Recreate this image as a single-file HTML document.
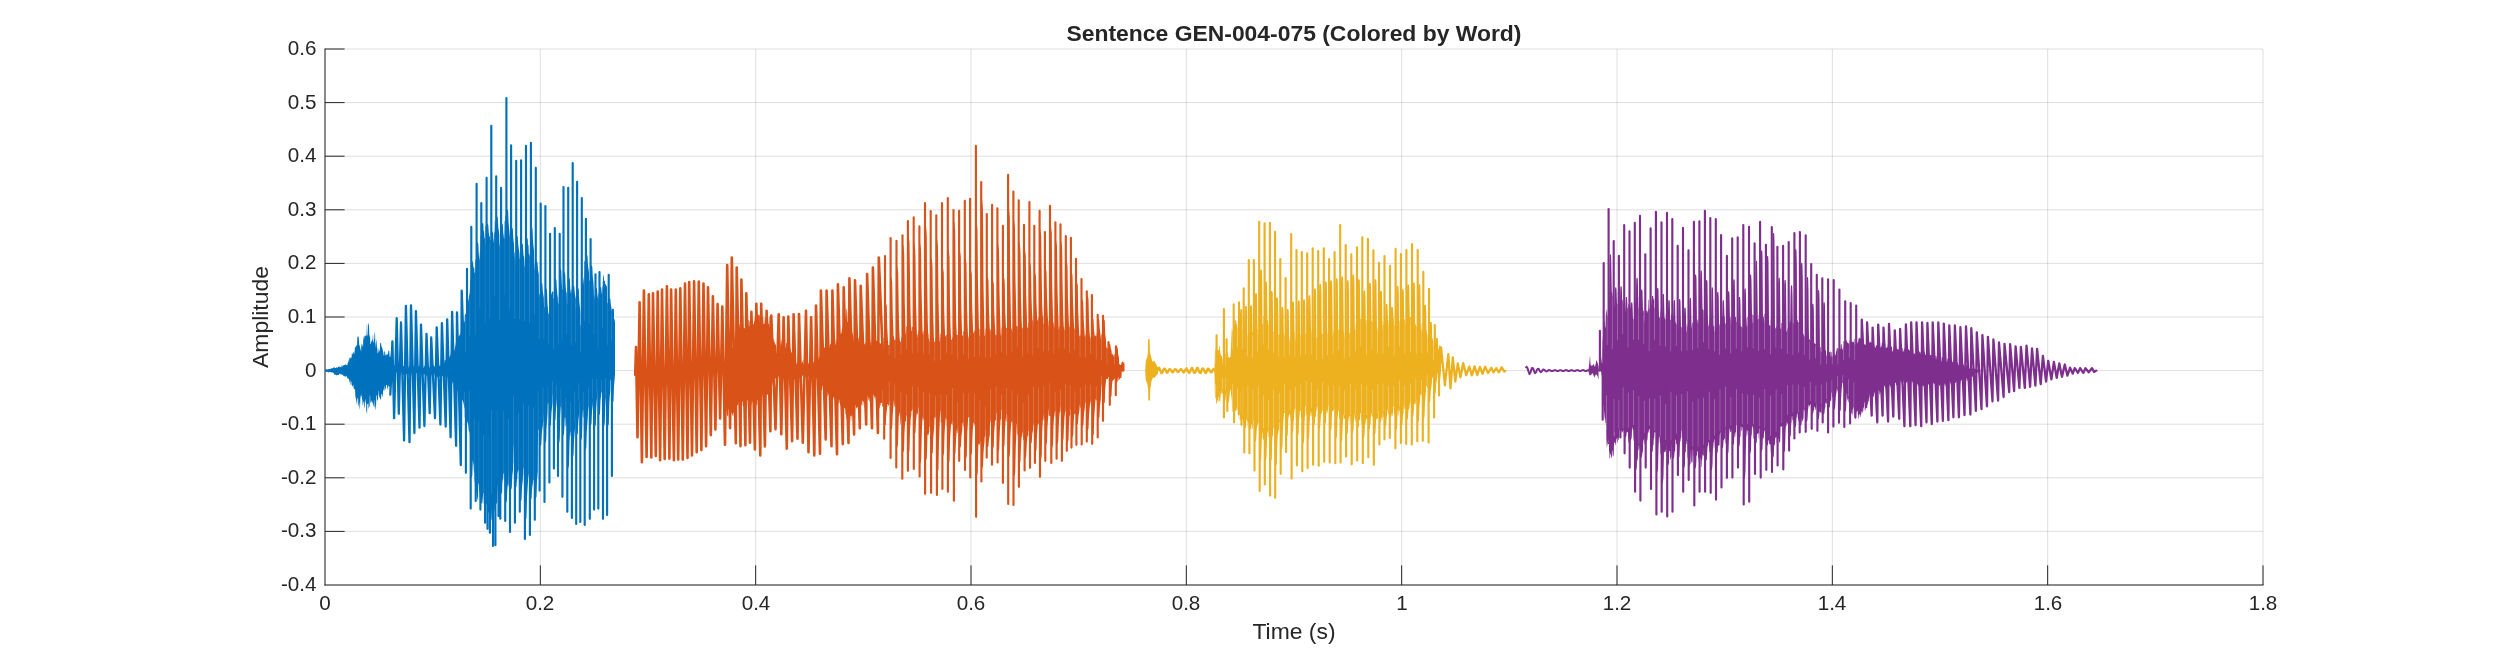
<!DOCTYPE html>
<html><head><meta charset="utf-8"><title>Sentence GEN-004-075</title>
<style>
html,body{margin:0;padding:0;background:#fff;}
body{width:2500px;height:657px;position:relative;overflow:hidden;font-family:"Liberation Sans",sans-serif;color:#262626;}
.xt,.yt,.title,.xl,.yl{will-change:transform;}
.xt{position:absolute;top:591px;width:100px;text-align:center;font-size:20.6px;line-height:24px;white-space:nowrap;}
.yt{position:absolute;left:200px;width:116.5px;text-align:right;font-size:20.6px;line-height:24px;white-space:nowrap;}
.title{position:absolute;left:794px;width:1000px;top:19.5px;text-align:center;font-weight:bold;font-size:22.9px;line-height:26px;color:#262626;white-space:nowrap;}
.xl{position:absolute;left:794px;width:1000px;top:617.5px;text-align:center;font-size:22.9px;line-height:26px;white-space:nowrap;}
.yl{position:absolute;left:109.5px;top:303.7px;width:300px;height:26px;text-align:center;font-size:22.9px;line-height:26px;transform:rotate(-90deg);transform-origin:50% 50%;white-space:nowrap;}
</style></head><body>
<svg width="2500" height="657" viewBox="0 0 2500 657" style="position:absolute;left:0;top:0">
<rect width="2500" height="657" fill="#fff"/>
<path d="M325.00 49V585M540.33 49V585M755.67 49V585M971.00 49V585M1186.33 49V585M1401.67 49V585M1617.00 49V585M1832.33 49V585M2047.67 49V585M2263.00 49V585M325 49.00H2263M325 102.60H2263M325 156.20H2263M325 209.80H2263M325 263.40H2263M325 317.00H2263M325 370.60H2263M325 424.20H2263M325 477.80H2263M325 531.40H2263M325 585.00H2263" stroke="#262626" stroke-opacity="0.15" stroke-width="1" fill="none"/>
<path d="M540.33 585V565.4M755.67 585V565.4M971.00 585V565.4M1186.33 585V565.4M1401.67 585V565.4M1617.00 585V565.4M1832.33 585V565.4M2047.67 585V565.4M2263.00 585V565.4M325 49.00H344.6M325 102.60H344.6M325 156.20H344.6M325 209.80H344.6M325 263.40H344.6M325 317.00H344.6M325 370.60H344.6M325 424.20H344.6M325 477.80H344.6M325 531.40H344.6" stroke="#262626" stroke-width="1" fill="none"/>
<path d="M325 48.5V585.5M324.5 585H2263.5" stroke="#262626" stroke-width="1" fill="none"/>
<path d="M325.3 369.7L326.3 369.3L327.3 369.4L328.8 368.9L331.1 368.8L331.3 368.3L331.8 368.2L332.1 368.5L332.3 368.5L332.6 368.1L334.8 367.3L335.1 368.1L336.1 367.9L336.3 367.2L336.6 367.2L337.1 367.3L337.3 367.7L337.8 367.7L338.1 366.9L338.6 366.5L339.1 366.4L339.6 366.3L339.8 367.3L340.8 366.9L341.1 367.3L341.3 367.3L341.6 365.4L342.1 365.2L342.3 366.6L342.6 366.5L342.8 365.4L343.1 365.3L343.3 365.6L344.3 365.1L345.1 365L345.3 364.2L345.6 364.2L345.8 364.6L346.1 364.5L346.3 365.2L346.8 365L347.1 365.4L347.3 364.9L347.6 363.4L348.1 362.3L348.3 360.1L348.6 359.5L348.8 362.2L349.1 361.7L349.3 358.7L349.8 357.6L350.3 356.7L350.6 358.9L351.6 357.2L351.8 353.6L352.1 353.2L352.3 354.5L353.3 353.1L353.6 352.1L354.1 351.3L354.3 354.1L354.6 353.8L354.8 348.1L355.1 347.6L355.3 347.8L356.3 344.9L356.6 346.3L357.1 344.7L357.3 338.1L358.1 335.2L358.3 338.1L358.8 336.4L359.1 344L359.3 345L359.6 345.2L361.1 351.8L361.3 345.4L361.8 343.9L362.1 344.3L362.3 343.6L362.6 346.9L363.1 345.7L363.3 336.7L363.6 336.3L363.8 339.5L364.1 339.2L364.3 336.8L365.3 335L365.6 336.5L366.1 335.6L366.3 336.1L366.6 334.6L366.8 325.6L367.1 323.7L367.3 336.6L367.8 334L368.1 322.6L368.3 324.6L368.6 323.1L369.1 327.3L369.3 335.6L369.6 337.4L369.8 334.5L370.1 336.1L370.3 344.2L370.8 343.8L371.1 340.4L371.3 340.2L371.6 342L372.1 341.6L372.3 339.6L372.6 339.5L372.8 335L373.1 334.8L373.3 342.5L373.8 342.2L374.1 339.2L374.3 339.1L374.6 331.8L375.1 334.3L375.3 342.7L375.6 343.8L375.8 346.9L376.1 347.8L376.3 339.1L376.8 341.8L377.1 347.4L377.3 347.7L377.6 353L378.1 353.5L378.3 348.7L378.6 348.8L378.8 352.2L379.8 350.1L380.1 343.6L380.3 343L380.6 343.3L381.1 342.5L381.3 345.9L381.6 346.8L381.8 346.8L382.3 348.3L383.1 351.8L383.3 352.1L383.6 355.3L384.1 355.8L384.3 351L385.1 352.1L385.3 354.8L386.1 355.8L386.3 355.6L386.6 354L387.1 353.6L387.3 354.4L387.6 354.2L387.8 354.4L388.1 354.3L388.3 350.7L388.6 350.5L389.3 351L389.6 356.6L390.6 357.1L390.8 353.1L391.3 354.8L392.1 362.2L392.3 364.3L392.6 364.5L392.8 367.4L394.1 367.3L394.3 365.3L394.8 365.3L395.1 367L396.3 367.1L396.6 368L397.8 367.9L398.1 366L398.6 366L398.8 367.3L399.3 367.3L399.6 366L400.1 366L400.3 366.8L400.8 366.8L401.1 366.5L401.6 366.5L401.8 364.6L402.3 364.6L402.6 366.4L403.1 366.4L403.3 366.1L403.8 366.1L404.1 364.9L404.6 364.9L404.8 367.6L405.6 367.7L406.1 367.7L406.3 364.8L406.8 364.8L407.1 365.1L407.6 365.1L407.8 367.3L409.1 367.5L409.3 365.4L409.8 365.4L410.1 364.6L410.6 364.6L410.8 367.5L411.3 367.5L411.6 364.6L412.1 364.6L412.3 364.9L412.8 364.9L413.1 365.9L413.6 365.9L413.8 366.6L414.3 366.6L414.6 367.9L415.8 368.1L416.1 364.6L416.6 364.6L416.8 367.4L417.3 367.4L417.6 365.6L418.1 365.6L418.3 367.3L418.8 367.3L419.1 365.1L419.6 365.1L419.8 366L420.3 366L420.6 367.1L421.1 367.1L421.3 367.6L421.8 367.6L422.1 365.5L422.6 365.5L422.8 368L423.3 368L423.6 367.4L424.1 367.4L424.3 366.1L424.8 366.1L425.1 365L425.6 365L425.8 365.9L426.3 365.9L426.6 367.2L427.1 367.1L427.3 364.6L427.8 364.6L428.1 367.3L428.6 367.2L428.8 367.9L429.3 367.9L429.6 366.8L430.1 366.8L430.3 366.1L430.8 366L431.1 367.5L431.6 367.4L431.8 366.9L432.3 366.9L432.6 366.1L433.1 366L433.3 365.1L433.8 365.1L434.1 366.8L434.6 366.8L434.8 365.8L435.3 365.7L435.6 363.5L436.1 363.5L436.3 363.1L436.8 363L437.1 364.3L438.3 364L438.6 364.4L439.1 364.3L439.3 366.1L439.8 365.8L440.1 366.1L440.8 365.7L441.3 365.4L441.6 361.2L442.1 360.8L442.3 361.6L442.8 361.2L443.1 359.8L443.6 359.5L443.8 363.8L444.3 363.5L444.6 360.3L445.1 359.9L445.3 360.5L445.8 360.2L446.1 358.7L446.6 358.4L446.8 360.3L447.3 360L447.6 356.2L448.1 355.8L448.3 360.7L448.8 360.3L449.1 357.6L449.6 357.2L449.8 355.9L450.3 355.6L450.6 354.5L451.1 354.1L451.3 354.8L451.8 354.5L452.1 354.5L452.6 353.3L454.1 347.9L454.3 351.2L454.8 350L455.1 346.9L455.6 345.6L455.8 343.3L457.1 340.1L457.3 343.4L457.8 342.1L458.1 338.2L458.6 336.8L458.8 335.5L459.3 334.2L459.6 336.3L460.8 332.5L461.1 334.3L461.6 332.8L461.8 329.9L463.1 325.8L463.3 331.3L463.8 329.9L464.1 322.3L464.6 320.8L464.8 315.5L465.3 313.9L465.6 314.5L466.1 312.9L466.3 314.2L466.8 312.6L467.1 316.3L467.6 311.9L467.8 304.3L468.3 299.5L468.6 299.7L469.1 295.1L469.3 295.4L469.8 290.9L470.1 280.8L470.6 276L470.8 289.4L471.1 287.3L471.3 261.1L472.1 261.1L472.8 262L473.1 263.2L473.3 266.8L473.6 266.2L473.8 268.5L474.3 267.5L474.6 272.9L475.1 271.9L475.3 260.1L475.8 259L476.1 263.3L476.6 262.2L476.8 242.2L477.6 242.3L478.3 243.7L478.8 254.3L479.6 260.7L479.8 252.4L480.3 249.6L480.6 237.3L481.1 234.2L481.3 223L482.1 223L482.6 223.5L482.8 222.9L483.3 223.5L483.6 231.1L484.1 231.6L484.3 237.3L484.6 238.6L484.8 238.9L485.1 225.8L485.6 226.3L485.8 243.3L486.3 243.7L486.8 223.8L487.6 223.9L488.3 225L488.8 232.9L489.3 236.7L489.6 235.4L490.3 240.4L490.6 240.4L490.8 239.1L491.1 251.4L491.3 231.4L492.1 231.4L492.3 231.5L493.1 233L493.3 238.3L493.8 243.3L494.1 233.3L494.6 230.8L494.8 219.9L496.1 224.2L496.3 216.6L497.1 216.6L497.8 217.8L498.3 227L499.3 234.8L499.6 244.9L499.8 244.3L500.1 248.8L500.6 247.7L500.8 248.9L501.1 248.3L501.3 223.5L502.1 223.6L502.8 224.8L503.3 233.5L503.6 234.4L503.8 237.6L504.1 238.7L504.3 238.1L504.6 221.4L505.1 220.2L505.3 215.1L505.6 215.6L505.8 216.3L506.1 233.3L506.3 234L506.6 209.4L507.3 209.4L508.1 211L508.6 222.8L509.8 235.9L510.3 237.3L510.6 241.9L511.1 243.2L511.3 227.7L512 227.8L512.8 229.1L513.3 238.3L514 244L514.3 260.3L514.5 252L515 252.7L515.3 264.5L515.8 265.1L516.3 236L517 236L517.8 237.1L518.3 245.2L519.5 254L519.8 258.9L520.3 259.5L520.5 255.2L521 255.8L521.3 243.3L522 243.4L522.8 244.5L523.5 254.7L523.8 256.5L524 255.9L524.3 259.1L524.5 267L524.8 266.4L525 258.9L525.5 257.7L525.8 264.8L526 237.5L526.8 237.5L527.5 238.6L527.8 240L528 245.5L528.5 244.3L528.8 253.7L529.3 257.1L529.5 254L529.8 253.4L530 254.1L530.3 253.1L530.8 255L531 227.1L531.8 227.1L532.5 228.8L533 240.9L534 250.9L534.3 269.3L534.5 270.6L534.8 262.7L535.3 265.6L535.5 264.5L535.8 266L536 261.5L536.8 261.6L537.5 262.5L538 269.9L538.8 274.2L539 298L539.3 292.9L539.8 295.1L540 293.1L540.5 295.4L540.8 282.8L541.5 282.8L542.3 283.8L542.8 291.2L543.8 297.8L544 306.8L544.3 307.7L544.5 306.4L545 308.1L545.3 315.8L545.5 288.3L546.3 288.4L547 290.3L547.5 304.1L548.5 315.1L548.8 313.2L549 313.7L550 305L550.3 295.8L551 295.9L551.3 293.4L551.8 293.2L552 291.7L553.3 291.2L553.5 298.7L554 298.5L554.3 294L554.5 293.9L554.8 278.6L555.5 278.6L555.8 278.9L556.3 279.8L556.5 281.1L556.8 287.9L557.3 294.1L557.8 297.8L558 304L558.5 303.6L558.8 296.9L559.3 296.4L559.5 294.2L559.8 268.8L560.5 268.8L561.3 270.6L561.8 283.6L562.3 290.2L562.5 289.5L563 289.9L563.3 303.5L563.5 271.9L564.3 271.9L564.5 272.3L565 273.4L565.3 275.4L565.5 283.4L566 290.4L566.3 292.6L566.8 292.9L567 304.4L568 303.9L568.3 277.8L569 277.8L569.8 279.1L570.3 288.8L570.8 293L571.3 292.7L571.5 288.5L572 289.9L572.3 298.5L572.5 299.1L572.8 285.5L573.5 285.5L574.3 286.5L574.8 293.3L575.8 299L576 311.2L576.5 312.8L576.8 306.9L577 307.8L577.3 288L578 288L578.8 289.6L579.3 301.6L580.3 311.2L580.5 324.8L580.8 325.5L581 324.8L581.8 311.2L582 284.6L582.8 284.5L583.3 275.2L583.5 285.3L584 277.1L584.3 260.5L584.8 261.9L585 259.9L585.5 261.4L585.8 272.2L586 254.4L586.5 254.4L586.8 254.5L587.5 255.8L588 265.3L589 272.8L589.3 281.5L589.5 279.9L590 281.2L590.3 293.5L590.5 294.1L590.8 265.2L591.5 265.4L592.3 266.8L592.8 277.2L593.5 283.3L594 294.6L595.3 301.6L595.5 288.1L596.3 288.1L597 289L597.5 295.6L598.3 300.6L598.5 294.2L599.3 291.3L599.5 286.9L600.3 286.9L601 287.6L601.3 288.4L601.8 293.9L602 294.1L602.3 287L602.8 284.8L603 275.9L603.3 274.7L603.8 277.1L604.5 283.7L605.5 283.9L606.3 285.7L607 286.6L607.3 307.3L607.5 302.7L608 303L608.3 315.2L608.5 315.3L608.8 297.9L609.5 297.9L610.3 298.7L610.8 304.6L612 310.9L612.5 318L612.8 326.1L613 318.8L613.8 318.8L614.5 319.3L615 322.7L615 374.6L614 386.4L613.5 400.9L612.8 402.9L612 402.9L611.8 377.6L611.3 376.6L611 378.8L610.5 380.7L610.3 390.1L609.8 395.6L609.3 404.6L608.8 423.7L608 426.3L607.3 426.4L607 389.6L606.8 390.4L606.5 389.6L606.3 390.4L605.3 405.7L604.8 422L604.5 424.8L603.8 426.7L603 426.7L602.8 393.1L601.5 392.2L601.3 393.4L600.5 400.7L600 413.5L599.3 415.1L599 415.4L598.3 415.4L598 389.5L597.8 389.4L596.8 399.9L596.3 407.8L595.8 424.4L595 426.6L594.3 426.8L594 393.2L593.8 397.5L593.3 398.2L593 400.2L592.8 404.9L592 411.8L591.5 423.7L590.8 425.2L590.5 425.4L589.8 425.4L589.5 403.7L589.3 403.4L588 410.8L587.8 417.1L586.8 431.4L586.3 447.9L585.5 450.2L584.8 450.2L584.5 421.5L584 418.3L583.5 416.6L583.3 410.4L583 409.6L582.5 416.7L582 437.6L581.3 440.3L581 440.6L580.3 440.6L580 403.6L579.8 402.8L579.5 399.8L579.3 412.1L578.3 422L577.8 433.3L577 434.8L576.3 434.8L576 413.3L575.8 418.4L575.3 421.2L575 428.3L574 440.2L573.5 455L572.8 457L572 457L571.8 435L571.5 435.4L571.3 435.3L570.8 436.2L570.5 431.4L570 432.5L569.5 442.5L569 465.2L568.3 468.1L568 468.5L567.3 468.5L567 426.9L566.8 424.6L566.3 423.3L566 427.3L565.5 426L565.3 418L564.8 417.3L564 433.6L563.3 435.4L562.5 435.4L562.3 404L561.8 401.9L561.5 410.1L560.8 405.8L560.3 415.7L559.8 437.5L559.5 441.3L558.8 443.9L558 443.9L557.8 402.2L557.3 401.9L557 398.9L556 408.2L555.5 419.8L554.8 421.4L554 421.4L553.8 394.9L552.8 394.7L552.5 402.7L551.5 412.4L551 424.3L550.3 426L549.5 426L549.3 403.6L549 404L548.8 402.5L547.8 404.3L547.5 414.1L546.5 428.4L546.3 438.6L546 441.2L545.5 442.6L545.3 443.1L544.5 443.1L544.3 413.3L543.8 415L543.5 421L543 422.8L542.8 426.3L542.3 429.2L541.8 434.2L541.3 444.5L540.5 445.9L539.8 446L539.5 424.8L539.3 425.4L539 429.5L538.5 430.7L538.3 428.9L538 429.5L537.8 471.8L537 480.9L536.5 496.6L535.8 498.7L535.5 498.9L534.8 498.9L534.5 474.6L534 481.5L533.8 479.7L533.3 480L533 482.8L532.5 485.6L532 490L531.5 498.7L530.8 499.9L530 499.9L529.8 491.7L529.5 491.6L529.3 477.6L528.8 477.4L528.5 474.1L528.3 474.1L528 481.5L527 497.8L526.5 517.8L525.8 520.6L525 520.6L524.8 472.6L524.3 472.5L524 468.4L523.5 468.3L523.3 475.6L523 475.5L522.8 480.6L522 487.6L521.5 499.8L520.8 501.4L520.5 501.6L519.8 501.6L519.5 488.1L519 488L518.8 469.9L518.3 469.8L518 473.5L517.5 471L517.3 479.9L517 478.6L516.5 486.3L515.8 488.2L515 488.2L514.8 469.3L513.8 462.9L513.5 446L513.3 444.8L513 469.8L512.3 476.2L511.8 486.7L511.6 488.5L510.8 489.8L510.1 489.8L509.8 463.4L509.1 467.1L508.8 484L508.3 487.4L508.1 482.2L507.3 490.1L506.8 501.3L506.1 502.8L505.3 502.8L505.1 473.5L504.6 472.4L504.3 480.5L503.8 479.3L503.6 473.8L503.3 473.2L503.1 473.7L502.8 480.9L502.6 480.3L502.3 484.4L502.1 492.4L501.3 494.1L501.1 494.3L500.3 494.3L500.1 493.5L499.3 494.9L498.6 494.9L498.3 480.7L498.1 481.3L497.6 488.2L497.1 502L496.3 504L495.6 504L495.3 493.6L494.8 507.8L494.6 510.2L493.8 511.9L493.1 511.9L492.8 495.6L492.1 505L491.6 519.2L490.8 521.2L490.1 521.2L489.8 502.3L489.3 510.4L489.1 511.7L488.3 512.7L487.6 512.7L487.3 497.9L486.8 503.7L486.1 504.5L485.3 504.5L485.1 489.4L484.8 498.1L484.3 497.4L484.1 493.6L483.6 493L483.3 504L482.8 503.2L482.6 495.8L482.1 502.7L481.3 503.6L480.6 503.6L480.3 497.1L479.8 497.4L479.6 491.5L479.1 491.8L478.8 483.5L478.3 483.7L478.1 500.2L477.8 500.4L477.6 499.8L476.8 495.6L476.6 492L475.8 492L475.6 472.7L475.3 471.3L475.1 484.1L474.6 480.9L474.3 473.8L473.8 470.7L473.6 466.1L472.8 460L472.3 475.4L471.6 477.5L470.8 477.5L470.6 452L470.1 448L469.8 434.3L469.3 430.8L469.1 432.5L468.6 430L468.3 425.3L467.8 423L467.6 422.9L466.3 418L466.1 412.3L465.6 410.1L465.3 420L464.8 417.3L464.6 409.1L463.3 402.2L463.1 402L462.6 399.6L462.3 401.3L461.8 398.7L461.6 393.4L461.1 391.1L460.8 391.9L460.6 390.8L460.3 390.6L460.1 390.6L459.6 390.1L459.3 386.7L458.8 386.2L458.6 388.2L458.1 387.7L457.8 391.1L457.3 390.5L457.1 388.5L456.6 387.9L456.3 388.3L455.1 386.4L454.8 383.9L454.3 383.4L454.1 381.9L453.6 381.4L453.3 381.4L452.8 380.9L452.6 383.6L452.1 383L451.8 380.8L451.3 380.3L451.1 380.5L450.6 379.9L450.3 378.9L449.8 378.4L449.6 378.8L449.1 378.3L448.8 379.4L448.3 378.9L448.1 377.9L447.6 377.6L447.3 375.7L446.8 375.7L446.6 377.8L446.1 377.7L445.8 377.3L445.3 377.2L445.1 377.8L444.6 377.7L444.3 378.7L443.8 378.6L443.6 375.9L442.3 375.9L442.1 374.8L441.6 374.7L441.3 375.8L440.8 375.8L440.6 377.4L440.1 377.3L439.8 376.2L439.3 376.2L439.1 377.6L437.8 377.4L437.6 376.9L437.1 376.8L436.8 377.2L436.3 377.1L436.1 376.3L435.6 376.2L435.3 373.4L434.8 373.3L434.6 375.4L434.1 375.4L433.8 376L433.3 375.9L433.1 374.4L431.8 374.1L431.6 375L431.1 374.9L430.8 375.7L430.3 375.6L430.1 375.9L429.6 375.9L429.3 374.6L428.8 374.6L428.6 373.9L428.1 373.8L427.8 375L427.3 374.9L427.1 375.6L425.8 375.4L425.6 374.3L425.1 374.3L424.8 374.1L424.3 374.1L424.1 375.6L423.6 375.6L423.3 373.6L422.8 373.6L422.6 372.9L422.1 372.9L421.8 373.5L421.3 373.5L421.1 375.2L420.6 375.2L420.3 372.5L419.8 372.5L419.6 374.5L418.3 374.5L418.1 372.9L416.8 373.1L416.6 372.8L416.1 372.8L415.8 374.6L414.6 374.5L414.3 373.9L413.8 373.9L413.6 375.5L413.1 375.5L412.8 373L412.3 373L412.1 375.2L411.6 375.2L411.3 373.1L410.8 373.1L410.6 372.6L410.1 372.6L409.8 375.3L408.6 375.5L408.3 373L407.8 373L407.6 374.3L407.1 374.3L406.8 373.8L405.6 373.9L405.3 372.8L404.8 372.8L404.6 374.3L404.1 374.3L403.8 375L403.3 375L402.6 374.9L402.3 373.2L401.8 373.2L401.6 372.1L401.1 372.1L400.8 373.8L400.3 373.8L400.1 375.7L399.6 375.7L398.8 375.6L398.6 374.3L398.1 374.3L397.8 372.2L396.6 372L396.3 372.9L395.8 372.9L395.6 373.3L395.1 373.3L394.8 374.8L394.3 374.8L394.1 373L393.6 373L393.3 372L392.8 372L392.3 378.1L391.3 384.3L391.1 386.9L390.8 387.6L390.6 384.1L390.3 384.4L390.1 386.4L389.6 387.2L389.3 386.2L389.1 386.5L388.8 385.4L388.6 385.8L388.3 385.7L388.1 390.2L387.8 390L387.6 388.1L387.3 387.9L387.1 385.4L386.1 384.8L385.8 388.2L385.3 389.2L384.8 391.2L384.6 385.9L384.3 386.3L384.1 390.5L383.6 391.1L383.3 388.8L383.1 389.1L382.8 396.2L382.3 397L382.1 393.8L381.3 394.5L381.1 398.5L380.1 399.8L379.8 397L379.3 397.5L379.1 394.8L378.8 395L378.6 391L378.3 391.2L378.1 398.5L377.1 401.5L376.8 394.8L376.3 396L376.1 405L375.8 405.7L375.6 409.3L375.3 410.1L375.1 407L374.6 407.6L374.3 400.1L374.1 400.3L373.8 406L373.3 406.4L373.1 403.8L372.8 404L372.6 402.4L372.3 402.6L372.1 401.4L371.6 400.3L371.3 402.5L371.1 401.7L370.8 403.4L370.3 401.8L370.1 395.3L369.8 396L369.6 406.2L369.3 407.6L369.1 406.6L368.6 409.2L368.3 402.9L367.8 404.4L367.3 403.5L367.1 413.9L366.3 411L366.1 402.8L365.6 402L365.3 399.2L365.1 398.9L364.8 408L364.3 407.2L364.1 401.3L363.8 401L363.6 402.9L363.3 402.5L363.1 405.9L362.6 404.7L362.3 399.7L362.1 399.1L361.8 397.1L361.3 396L361.1 393.7L360.3 399L360.1 406.6L359.6 409.9L359.3 402L359.1 403.2L358.8 407L358.3 404.7L358.1 398.3L357.8 397.3L357.6 399.4L357.3 398.3L357.1 405.5L355.3 395.6L355.1 389.6L354.8 389.1L354.6 389.8L353.6 388L353.3 384.9L353.1 384.6L352.8 386.8L352.3 386L351.8 385L351.6 381.9L351.3 381.5L351.1 385.3L350.6 384.3L350.3 380.6L350.1 380.2L349.8 382.4L349.3 381.4L349.1 378.8L348.8 378.5L348.6 379L348.3 378.6L348.1 379.5L346.8 376.6L346.3 376.4L346.1 375.5L345.8 375.4L345.6 377L345.1 376.4L343.3 375.9L343.1 374.6L342.8 374.5L342.6 375.1L342.3 375L342.1 374.4L341.6 374.2L341.3 374.7L340.3 374.2L340.1 373.2L339.8 373.3L339.6 373.9L339.3 374L339.1 374.8L338.1 375.3L337.8 374.8L337.3 375.1L336.8 375.7L336.6 375.1L336.3 375.2L335.6 374.7L335.3 374.7L335.1 374.5L334.8 374.9L333.1 372.5L331.8 372.5L329.6 372L329.1 372.1L328.8 372.5L328.3 372.4L328.1 372L325.3 371.7Z" fill="#0072BD"/>
<path d="M635.5 370.6L723.2 370.6L723.8 365.9L724 367.1L724.5 364.2L725.2 358.8L725.5 354.5L726.8 353.2L727 352.3L727.5 351.7L727.8 353.1L728.2 352.5L728.5 353.4L729 352.8L729.2 351.4L729.8 350.6L730 348.2L730.5 347.2L730.8 350.7L731.2 349.8L731.5 347.6L732 346.6L732.2 348.1L732.8 347.2L733 342.7L733.5 341.5L733.8 347.2L734.2 346L734.5 339.4L735 338L735.2 334.8L735.8 331.5L736 339.3L736.5 336.3L736.8 328.5L737.5 324L738 323.8L738.2 321.2L738.8 321L739 324.1L739.5 323.9L739.8 327.8L740.2 327.6L740.5 325.7L741 325.5L741.2 318.6L741.8 318.4L742 318.9L742.5 318.7L742.8 328.2L743.2 328L743.5 328.4L744.8 327.9L745 328.7L745.5 328.5L745.8 323.1L746.2 322.9L746.5 326.7L747 326.5L747.2 317.2L747.8 317.1L748 319.8L748.5 319.8L748.8 326.6L749.2 326.6L749.5 321.3L750 321L750.2 323.7L750.8 323.5L751 321.2L751.5 321L751.8 324.4L752.2 324.2L752.5 324.8L753.8 324.1L754 321.4L754.5 321.2L754.8 316.7L755.2 316.5L755.5 318.5L756 318.3L756.2 325L756.8 324.8L757 315.8L757.5 315.8L757.8 313.7L758.2 313.8L758.5 315.2L759.8 315.2L760 325.7L760.5 325.8L760.8 319.8L761.2 319.9L761.5 325.3L762 325.4L762.2 316.2L762.8 316.3L763 324.1L763.5 324.2L763.8 317.2L764.2 317.3L764.5 323.4L765 323.5L765.2 317.8L765.8 317.9L766 322.9L766.5 323L766.8 326.6L767.2 326.7L767.5 322.3L768 322.5L768.2 323.7L768.8 323.9L769 316.4L769.2 316.5L769.5 317.4L769.8 326L770.2 327.9L770.5 326.4L771.8 331L772 327.8L772.5 330L772.8 339.6L773.2 341.5L773.5 337.7L774.8 343.6L775 342.8L775.5 344.9L775.8 344.3L776.2 346.6L776.5 352.3L777 354.4L777.2 352.9L777.5 353.2L777.8 353.1L778 354.1L779.2 353.3L779.5 355.7L780 353.4L780.2 346.8L781.2 340.1L781.5 339.6L781.8 344.6L783 344L783.2 338L783.8 338.4L784 346.2L786 348.3L786.2 342.6L786.8 343.1L787 343.8L787.5 344.3L787.8 347L788.2 347.5L788.5 346.4L789 347L789.2 351.7L789.8 352.5L790 348.3L790.5 349.2L790.8 351.1L791.2 351.9L791.5 352L792 353.4L792.2 354.8L793.5 358L794.5 362.4L795 363.7L795.2 362.5L795.8 363L796 364.1L796.5 364.4L796.8 362.6L797.2 363L797.5 362.6L798 362.6L798.2 363L798.8 363L799 364.2L799.5 364.1L799.8 365L800.2 364.8L800.5 364.1L801 364L801.2 363.4L801.8 363.1L802 362.3L802.5 362L802.8 360.3L803.2 360L803.5 364.2L804 364.4L804.2 362.7L805.5 363.3L805.8 362.4L806.2 362.6L806.5 361.9L807 362.2L807.2 362.7L807.8 362.8L808 363.4L808.5 363.4L808.8 362.9L809.2 362.9L809.5 363.3L810 363.3L810.2 362.4L810.8 362.4L811 363.1L812.2 363.2L812.5 365.1L813 365.1L813.2 362.2L813.8 361.6L814 363.7L814.5 363.1L814.8 361.7L815.2 361.1L815.5 359.7L816 359L816.2 358L817.5 356L817.8 361L818.2 360.4L818.5 358.4L819.8 356.8L820 356L820.5 355.3L820.8 356.5L821.2 355.9L821.5 353L822 352.3L822.2 355.1L822.8 354.5L823 352.7L823.5 352.1L823.8 347.4L824.2 346.8L824.5 348L825 347.5L825.2 349.2L825.8 349L826 351.5L826.5 351.2L826.8 344.8L827.2 344.5L827.5 346.2L828 345.9L828.2 349.6L828.8 349.2L829 348.1L829.5 347.7L829.8 345.1L830.2 344.6L830.5 344.1L831 343.6L831.2 346.8L831.8 346.4L832 340.5L832.5 340L832.8 345.1L833.2 344.7L833.5 345L834 344.7L834.2 339.4L834.8 339L835 344.9L835.2 344.7L835.5 344.4L835.8 339.4L836.2 338.6L836.5 342.6L837 341.9L837.2 337.8L837.8 337L838 339.7L838.5 339L838.8 337.7L839.2 336.9L839.5 330.9L840 330.1L840.2 334.6L841.2 333.4L841.5 332.6L841.8 329.6L842.2 327.4L842.5 330.3L843 328.3L843.2 328.6L843.8 326.5L844 322.8L844.5 320.6L844.8 321L845.2 318.8L845.5 319.7L846 319.7L846.2 308.9L846.8 308.9L847 321.9L847.5 322.1L847.8 311.7L848.2 312.5L848.5 311.1L849 312L849.2 315.5L849.8 317.5L850 327.4L850.5 329.4L850.8 324.5L851.2 326.6L851.5 333.3L852 336L852.2 331.3L852.8 334.4L853.5 337.2L853.8 341.7L854.2 342.1L854.5 344.5L855 344.8L855.2 340.2L855.8 340.4L856 344.5L856.5 344.6L856.8 342.8L857.2 342.9L857.5 341.7L858 341.9L858.2 338.1L858.8 338.2L859 342.9L859.5 343.1L859.8 345.2L860.2 345.3L860.5 339.7L861.8 339.8L862 342.4L862.5 342.6L862.8 346.8L863.2 346.9L863.5 345.7L864 345.7L864.2 343.9L864.8 343.9L865 342.6L865.5 342.5L865.8 345.3L866.2 345.3L866.5 340.3L867 340.3L867.2 339.9L867.8 339.8L868 339.1L868.5 339.1L868.8 339.4L869.2 339.4L869.5 346.8L870 346.7L870.2 341.9L870.8 341.8L871 346.1L871.5 346.1L871.8 339L872.2 338.9L872.5 340.2L873.8 340L874 344.9L874.5 344.9L874.8 346L875.2 345.9L875.5 339.3L876 339.3L876.2 341.1L877.5 340.9L877.8 342.1L878.2 342.1L878.5 339.2L879 339.1L879.2 343.2L879.8 343.1L880 343.7L880.5 343.7L880.8 342.9L881.2 342.9L881.5 343.3L882 343.3L882.2 340.4L882.8 340.3L883 338L883.5 337.9L883.8 345.1L885 345.1L885.2 303.3L885.8 303.3L886 303.6L886.8 306.2L887.2 326.6L888.2 344.9L889.5 345L889.8 340.8L890.2 340.8L890.5 339.1L890.8 277.7L891.2 277.7L891.5 277.9L892.2 282.4L892.8 315.2L893.5 335.8L893.8 336.4L894 336.4L894.2 339.8L894.8 339.7L895 340.8L895.5 340.6L895.8 337.9L896.2 337.7L896.5 337.2L896.8 267.2L897.2 267.2L897.5 267.7L898.2 272.8L898.8 311.4L899.2 329.1L899.8 340.6L900 340.5L900.2 342L900.8 341.8L901 338.7L901.5 338.5L901.8 336.5L902.2 336.2L902.5 244.8L903.2 244.8L903.5 245.8L904.2 253.6L904.8 302.5L905.5 331.1L905.8 334.2L906 334.2L906.2 326.6L906.8 326.6L907 327.1L907.5 327.1L907.8 326L908 236.6L908.8 236.6L909.5 242.5L910.5 310.2L911 326.7L911.2 326.7L911.5 330.8L912 330.9L912.2 326.8L912.8 326.9L913 326.3L913.5 326.4L913.8 244.1L914.5 244.1L915.2 249.6L915.5 258.7L916 301.6L917 337.3L917.2 337.3L917.5 333.7L918 333.9L918.2 331.2L919.2 331.6L919.5 243.9L920.2 243.9L921 249.4L921.2 258.5L921.5 288.3L922.5 329.2L922.8 334.1L923.2 334.4L923.5 331L924 331.3L924.2 338.2L924.8 338.4L925 224.9L925.8 224.9L926 226.2L926.5 231.4L926.8 237.3L927 274.4L927.8 321.5L928.2 334L928.5 334L928.8 339L929.2 339L929.5 341.7L930 341.7L930.2 338.6L930.5 338.6L930.8 257.9L931.5 257.9L931.8 258.8L932.2 262.6L932.5 266.6L933 308.6L934 341.2L934.5 341.2L934.8 342.2L935.2 342.2L935.5 338.4L936 338.4L936.2 336.9L936.5 239L937 239L937.2 239.8L938 246.8L938.5 299.8L939.5 341.4L939.8 341.4L940 333.6L940.5 333.6L940.8 337.5L941.2 337.5L941.5 333.9L942 333.9L942.2 267.4L942.8 267.4L943 267.9L943.8 272.9L944.2 310.6L944.8 327.8L945.2 336.3L945.8 336.3L946 335.1L947.2 335.3L947.5 336.2L947.8 336.2L948 249.7L948.5 249.7L948.8 250.3L949.5 256.5L950 303.7L950.5 325.2L951 337.8L951.2 339.9L951.8 339.9L952 337.3L952.5 337.3L952.8 338.1L953.2 338.1L953.5 342.1L953.8 222.3L954.2 222.3L954.5 223.1L955.2 231.3L955.8 293L956.2 321.3L956.8 335.1L957.8 334.9L958 332.3L958.5 332.2L958.8 338.2L959 338.1L959.2 250.6L959.8 250.6L960 250.9L960.8 257L961.2 301.8L961.8 323.4L962.2 335.6L963 335.5L963.2 331.3L963.8 331.2L964 339.1L964.5 339L964.8 338.6L965 258.6L965.5 258.6L965.8 258.9L966.5 264.3L967 304.4L967.5 323.7L968.2 339.8L968.5 336.5L969 336.5L969.2 331.8L969.8 331.7L970 335L970.2 270L971 270L971.8 274.4L972.2 306L973.2 333.2L973.5 333.3L973.8 332.3L974.2 332.2L974.5 330.4L975 330.3L975.2 331.4L975.8 331.3L976 222L976.8 222L977.5 229.4L978 283.9L978.8 322.4L979 328.9L979.5 328.8L979.8 336.4L980.2 336.3L980.5 329.4L981 329.3L981.2 198.8L982 198.8L982.2 200.5L982.8 206.8L983 215.2L983.5 284.8L984.5 336.1L984.8 336.1L985 328.7L985.5 328.7L985.8 334.7L986.2 334.6L986.5 330.1L986.8 330.1L987 276.3L987.5 276.3L987.8 276.8L988.5 280.8L989 310.9L989.5 324.4L990 331.6L990.2 329.3L990.8 329.2L991 334.5L991.5 334.5L991.8 329.4L992 329.3L992.2 280.4L993 280.5L993.8 284.1L994.2 310.1L994.8 322.9L995.5 334.9L996 334.8L996.2 335.7L996.8 335.6L997 328.6L997.2 328.5L997.5 244.6L998.2 244.6L999 250.2L999.5 290.9L1000 313.1L1000.8 335.6L1001.2 335.5L1001.5 327.7L1002 327.6L1002.2 329L1002.8 329L1003 276.2L1003.8 276.2L1004.5 279.5L1004.8 284.2L1005.2 311.2L1006 327.6L1006.2 328L1007.2 327.9L1007.5 330.9L1008 330.9L1008.2 208.3L1008.8 208.3L1009 208.7L1009.8 217.3L1010.2 280.2L1010.8 310.5L1011.2 328.6L1011.8 328.5L1012 331.8L1012.5 331.7L1012.8 325.2L1013.2 325.1L1013.5 221.1L1014.2 221.1L1015 228.3L1015.5 280.8L1016.5 325.6L1016.8 326.4L1017.8 326L1018 331.7L1018.5 331.6L1018.8 242.6L1019.5 242.6L1019.8 243.7L1020.2 247.6L1020.5 253.4L1021 296.6L1021.5 316.2L1022 327.4L1022.2 327.3L1022.5 328.5L1023 328.3L1023.2 330.3L1023.8 330.1L1024 328.3L1024.2 249.6L1024.8 249.6L1025 250.1L1025.8 255.4L1026.2 294.9L1027.2 326.9L1027.5 326.9L1027.8 328.2L1028.2 328.1L1028.5 322.8L1029 322.7L1029.2 327.9L1029.5 263.1L1030.2 263.1L1031 267.2L1031.5 297.1L1032 312.1L1032.5 319.9L1032.8 319.8L1033 321.8L1033.5 321.7L1033.8 327.4L1034.2 327.3L1034.5 273L1035 273L1035.2 273.4L1036 276.8L1036.5 303.3L1037.2 318.9L1037.5 320.6L1038 320.6L1038.2 317.5L1038.8 317.5L1039 321.3L1039.5 321.3L1039.8 230.1L1040.5 230.2L1041.2 236.6L1041.8 283.1L1042.2 306L1042.8 316.3L1043.2 316.3L1043.5 323.4L1044 323.4L1044.2 318L1044.8 318L1045 268.2L1045.8 268.2L1046.5 271.6L1047 296.4L1047.8 315.7L1048 319.7L1048.2 320.8L1048.5 320.9L1048.8 326L1049.2 326.1L1049.5 316.7L1050 316.8L1050.2 225.8L1050.8 225.8L1051 226.5L1051.8 233.3L1052.2 284.6L1052.8 308.3L1053.2 322.4L1053.8 322.5L1054 327.2L1054.5 327.3L1054.8 325.1L1055.2 325.2L1055.5 240.9L1056.2 240.9L1057 246.7L1057.5 288L1058 308.6L1058.8 329.4L1059 329.5L1059.2 326.6L1059.8 326.7L1060 329.2L1060.2 329.2L1060.5 241.1L1061.2 241.1L1062 246L1062.2 251.2L1062.5 279.2L1063.2 313.8L1063.8 327.2L1064.2 327.3L1064.5 329.8L1065 329.9L1065.2 323.3L1065.8 323.4L1066 260.9L1066.5 260.9L1066.8 261.2L1067.5 265.8L1068 299.7L1069 327L1069.5 327.2L1069.8 324.1L1070.2 324.3L1070.5 325.2L1070.8 325.3L1071 271.7L1071.8 271.7L1072.5 275.3L1073 301.5L1073.8 320.9L1074.2 328.2L1074.8 328.4L1075 330.7L1075.5 330.9L1075.8 330.7L1076 330.8L1076.2 281.9L1076.8 281.9L1077 282.3L1077.8 285.6L1078.2 310.8L1079.2 333.7L1079.5 335.9L1080 336.6L1080.2 335.1L1080.8 335.8L1081 329.4L1081.2 329.8L1081.5 298.9L1082.2 298.9L1083 301L1083.2 303.1L1083.8 321.3L1084.8 336.6L1085.2 336.9L1085.5 334.2L1086 334.5L1086.2 336.7L1086.8 337L1087 296L1087.5 296L1087.8 296.2L1088.5 299.1L1089 320.9L1089.5 331.2L1090 337.1L1090.5 337.2L1090.8 339.2L1091.2 339.3L1091.5 340.7L1091.8 340.6L1092 317.8L1092.8 317.8L1093.5 319.1L1094 329.2L1094.8 336.4L1095 336.4L1095.2 335.4L1095.8 335.3L1096 336.1L1096.5 336L1096.8 333.1L1097.2 333L1097.5 333.7L1097.8 318.7L1098.5 318.7L1099.2 319.9L1099.8 328.7L1101 339.2L1101.2 333.7L1101.8 334.7L1102 342.7L1102.5 343.6L1102.8 342.1L1103 318.8L1103.8 318.8L1104.5 320.2L1104.8 321.1L1105.2 333.2L1106 340.4L1106.2 345.7L1106.5 347.5L1107 348.4L1107.2 347.9L1107.8 348.5L1108 348.4L1108.5 349L1108.8 343.7L1109.5 343.8L1110.2 344.3L1110.8 348.2L1111.5 350.5L1111.8 354.2L1112.2 354.7L1112.5 353.7L1113 354.3L1113.2 355.6L1113.8 356.1L1114 353.7L1114.5 354.3L1114.8 356.4L1115.2 356.9L1115.5 358.4L1115.8 358.7L1116 347L1117 347.1L1117.8 348.2L1118.2 354.4L1119 358L1119.2 364.3L1119.8 364.3L1120 364.9L1120.5 364.9L1120.8 364.5L1121.2 364.5L1121.5 362.8L1122 362.8L1122.2 361.4L1122.8 361.4L1123 363.7L1123.5 364.7L1123.8 362L1124.2 362L1124.5 365.1L1124.5 371.2L1121.8 371.2L1121.5 376.8L1121.2 378.1L1120 378L1119.8 379.2L1119.2 379.2L1119 380.4L1118.5 380.4L1118.2 377L1118 377L1117.5 381.8L1116.8 382.4L1116 382.5L1115.8 378.9L1115.5 378.9L1115.2 378.3L1114.8 378.3L1114.5 379L1114 379L1113.8 380.1L1113.2 380.1L1113 380.8L1112.5 380.8L1112 384.8L1111.5 395.9L1110.8 397.5L1110 397.5L1109.8 377.6L1109.2 376.7L1108.8 376.7L1108.5 377.4L1108 377.4L1107.8 378.9L1106.5 379L1106.2 378.7L1105.2 389.4L1104.8 402L1104 403.7L1103.8 403.8L1103.2 403.8L1103 378L1102.8 378.1L1101.2 389.4L1100.8 399.4L1100 405.7L1099.5 416.1L1099.2 417.9L1098.5 419.2L1097.8 419.2L1097.5 398.9L1097.2 401L1096.8 401.6L1096.5 399.8L1096 400.2L1095.8 399.2L1095.5 399.4L1094.2 418L1093.8 433.9L1093 436.1L1092.2 436.1L1092 403.7L1091.5 404L1091.2 404.5L1090.8 404.8L1090.5 401.3L1090.2 401.4L1089 415.5L1088.5 428.6L1087.8 430.5L1087 430.5L1086.8 403.4L1086.2 403.6L1086 402.4L1085.5 402.6L1085.2 403.9L1085 404L1084.8 407.8L1084 413.9L1083.5 424.2L1083.2 425.4L1082.5 426.6L1081.8 426.6L1081.5 404.7L1081 404.9L1080.8 408L1080.2 408.2L1080 404.7L1079.8 404.8L1079.5 409.4L1078.5 415.8L1078 423.2L1077.2 424.2L1076.5 424.2L1076.2 412.4L1075.8 412.6L1075.5 414.5L1075 414.7L1074.8 413.5L1074.5 413.6L1074.2 414.4L1073.8 420.7L1073.2 435L1072.5 437L1072.2 437.2L1071.5 437.2L1071.2 415L1071 409L1070.5 409.1L1070.2 415.3L1069.8 415.3L1069.5 416.1L1069 423.9L1068.5 440.2L1067.8 442.4L1067.5 442.5L1067 442.5L1066.8 414.5L1066.5 407.2L1066 407.2L1065.8 411.5L1065.2 411.5L1064.5 417.3L1064 424.9L1063.5 438.9L1062.8 440.8L1062 440.8L1061.8 406.7L1061.5 406.7L1061.2 406.3L1060.8 406.3L1060.5 411.6L1060 411.6L1059.8 412.3L1059.2 417.2L1058.8 425.2L1058.2 441.5L1057.5 443.8L1056.8 443.8L1056.5 411.6L1056.2 411.6L1056 411L1055.5 411.1L1055.2 416.4L1054.8 416.5L1054.5 411.1L1053.5 426.1L1053 444.8L1052.2 447.3L1052 447.6L1051.5 447.6L1051.2 416L1051 416L1050.8 415.7L1049.5 416.3L1049.2 415.3L1048.8 415.5L1048.5 408.1L1048.2 417.1L1047.5 426.7L1047 442.3L1046.2 444.4L1045.5 444.6L1045.2 420.4L1045 420.5L1044.8 417.9L1044.2 418.1L1044 420.3L1043.5 420.5L1043.2 414.3L1042.2 432.2L1041.8 454.1L1041.5 456.9L1040.8 459.4L1040 459.4L1039.8 418.3L1039 418.7L1038.8 423.6L1038.2 424.3L1038 423.2L1037 435.2L1036.5 449.9L1035.8 451.9L1035 451.9L1034.8 428.8L1034.5 429.2L1034.2 426.1L1033.8 426.8L1033.5 424.6L1033.2 424.9L1033 430.3L1032.2 434.6L1031.8 441.7L1031.5 442.9L1030.8 443.8L1030 443.8L1029.8 430.3L1029.2 431L1029 430.8L1028.5 431.3L1028.2 436.5L1027.8 436.8L1027.5 435.1L1026.8 443.8L1026.2 456.3L1025.5 458L1024.8 458L1024.5 436.9L1024 436.9L1023.8 440.3L1023.2 440.3L1023 432.5L1022.5 432.5L1022.2 436.4L1021.8 436.4L1021.5 437.9L1021 445.7L1020.5 461.2L1019.8 463.3L1019 463.3L1018.8 436.5L1018.5 438.9L1018 438.4L1017.8 434.7L1017.2 434.1L1017 423.9L1016.8 423.7L1015.8 446.6L1015.2 472.6L1014.5 476L1014.2 476.3L1013.8 476.3L1013.5 423.6L1013.2 421.2L1012.8 420.7L1012.5 423.9L1012 423.4L1011.8 421.8L1011.5 421.6L1011.2 422.8L1010.5 434.1L1010 453.1L1009.8 455.2L1009.2 456.9L1009 457.3L1008.2 457.3L1008 418L1007.5 417.4L1007.2 414.5L1006.8 413.9L1006.5 422.1L1006 421.5L1005.8 417.8L1005 429.2L1004.5 445.3L1003.8 447.5L1003 447.5L1002.8 409.6L1001.5 409.9L1001.2 418.7L1000.8 418.9L1000.5 420.8L999.8 431.7L999.2 448.8L998.5 451.2L997.8 451.3L997.5 415.8L997 416.2L996.8 412.9L996.2 413.2L996 420.4L995.5 420.8L995.2 420L994.2 431.9L993.8 446.5L993 448.4L992.8 448.6L992.2 448.6L992 416.2L991.8 416.3L991.5 417.8L991 417.9L990.8 421.6L990.2 422.5L990 423.7L989.8 435L989 439.1L988.5 445.7L988.2 446.8L987.5 447.6L986.8 447.6L986.5 429.7L986.2 428.6L985.8 430.1L985.5 435.5L985 437.1L984.8 436.5L984.5 441.8L984 446.3L983.5 453L983 466.3L982.2 468.1L981.5 468.1L981.2 440.5L981 440.9L980.5 440.9L980.2 445.9L979.8 445.8L979.5 443.9L979 443.8L978.8 444.3L978.5 443.5L978.2 448.5L977.8 472.5L977 475.7L976.8 475.9L976.2 475.9L976 428.6L975.8 423.1L975.2 421.3L975 427L974.5 425.5L974.2 423.9L973.8 423.4L973.5 421.8L973 426.8L972.5 435.1L972 452.5L971.2 454.9L970.5 455L970.2 418.5L970 418.4L969.8 417.1L969.2 416.9L969 417.6L968.2 417.2L967.2 435.3L966.8 455.2L966.5 457.2L965.8 459.5L965 459.5L964.8 416L964.5 419L964 419.8L963.8 426.1L963.2 427L963 422.6L962.5 423.5L962.2 430.5L961.5 436.1L961 445.6L960.8 446.6L960.2 447.5L960 447.7L959.2 447.7L959 426.1L958.8 426.2L958.5 427.5L958 427.2L957.8 433.3L957.2 432.9L957 427.9L956 439.7L955.5 453.3L954.8 455.1L954 455.1L953.8 429.2L953.5 429L953.2 421.7L952.8 421.4L952.5 425L952 424.7L951.8 423.7L951.2 423.4L950.8 427.9L950.2 437L949.5 461L948.8 463.5L948 463.5L947.8 427.5L947.5 427.3L947.2 427.5L946.8 427.1L946.5 419.6L946 419.2L945.8 416.9L945 426.1L944.5 435.3L944 453.2L943.2 455.6L942.5 455.6L942.2 419L942 422.4L941.5 422L941.2 422.9L940.8 422.4L940.5 411.3L940.2 411.1L939 441.3L938.5 468.7L937.8 472.5L937 472.5L936.8 412.8L936.2 413.5L936 417.9L935.5 418.7L935.2 416.5L934.8 417.2L934.5 418L934.2 427.6L933.2 438.6L932.8 452.2L932 454.1L931.2 454.1L931 430.7L930.8 430.1L930.2 430.9L930 426.1L929.5 426.9L929.2 432.1L928.8 432.9L928.5 435.3L928 434.8L927.8 434L927.5 435.7L926.8 458L926 460.4L925.2 460.4L925 417.1L924.8 418.3L924.2 416.7L924 419.7L923.5 418.1L923.2 421.9L922.8 420.1L922.5 416L921.8 433.4L921.2 459.6L920.5 463.3L919.8 463.3L919.5 408.9L919 408.9L918.8 407.6L918.2 407.6L918 414.6L917.5 414.6L917.2 412.6L917 412.6L916.8 413.3L916 420.9L915.5 432.4L914.8 434L914 434L913.8 412.6L913.5 406.6L913 406.6L912.8 410L912.2 410L912 410.8L911.5 410.8L911.2 416L911 416L910.8 418L910 431.3L909.5 450.5L908.8 453.2L908 453.2L907.8 416.4L907.5 419.2L907 419.8L906.8 415.3L906.2 415.8L906 421.1L905.2 421.9L905 424.4L904.5 432.5L904 450.1L903.2 452.5L903 452.7L902.5 452.7L902.2 413.8L901.8 414.3L901.5 419.3L901 419.7L900.8 425.2L900.2 423L900 414.6L899.5 412.3L899.2 417L899 415.7L898.8 416.2L898 444.3L897.2 447.4L896.5 447.6L896.2 408.1L895.8 408L895.5 404.2L895 404.1L894.8 406.8L894.2 406.5L894 399.1L892.8 413.4L892.2 427.4L891.5 429.3L890.8 429.4L890.5 399.5L890.2 400.2L889.8 400.5L889.5 404L889 404.4L888.8 405.7L888.2 406.1L888 403.9L887.5 404.2L886.2 415.8L885.8 424.4L885 425.6L884.2 425.6L884 403.7L883.8 403.9L883.5 407.1L883 407.5L882.8 406.5L882.2 406.2L882 403.2L881.5 402.7L881.2 403.1L880.8 402.7L880.5 405.9L880 405L879.8 408.8L879.2 407.9L879 400L878.5 399.2L878.2 404.9L877.8 404L877.5 400.3L877 399.4L876.8 395.2L876.2 394.8L876 396.8L875.5 396.4L875.2 399.5L874.8 399L874.5 396.6L874 396.7L873.8 394.7L873.2 394.8L873 395.7L872.5 395.8L872.2 399.9L871.8 400.1L871.5 399.9L871 400L870.8 395.4L870.2 395.5L870 401.2L869.5 401.3L869.2 397.3L868.8 397.5L868.5 400.2L868 400.3L867.8 395.5L867.2 395.6L867 401.8L866.5 401.9L866.2 396.6L865.8 396.8L865.5 399.4L865 399.5L864.8 397.9L864.2 398.2L864 401.5L863.5 401.8L863.2 405.6L862.8 405.9L862.5 400.5L862 401L861.8 405.2L861.2 405.6L861 401.7L860.5 402.1L860.2 404.2L859.8 404.7L859.5 401.9L859 402.3L858.8 406.1L857.5 406.9L857.2 408.3L856.8 408.7L856.5 407.4L856 407.9L855.8 404.9L855.2 405.3L855 411.4L854.5 412.1L854.2 413.5L853.8 414.5L853.5 408.3L853 409.2L852.8 416L852.2 417.3L852 414.9L851.5 416.1L851.2 421.1L850.8 422.5L850.5 416.3L850 416.1L849.8 413.2L849.2 413.1L849 417.7L848.5 417.3L848.2 415L847.8 414.3L847.5 413.2L847 412.5L846.8 419.1L846.2 418.2L846 415L845.5 414.2L845.2 408.7L844.8 408L844.5 408.3L844 407.6L843.8 410.2L843.2 409.4L843 412.5L842.5 411.6L842.2 402L841.8 401.3L841.5 407L840.2 405.1L840 403.2L839.5 402.5L839.2 399.8L838.8 399.2L838.5 404.1L838 403.8L837.8 400.6L837.2 400.3L837 397.5L836.5 397.1L836.2 396.3L835.8 396L835.5 395.2L835 394.9L834.8 397.2L834.2 396.8L834 397.3L833.5 397L833.2 399.4L832.8 399L832.5 400L832 399.5L831.8 398.2L831.2 397.8L831 392.4L830.5 392L830.2 396.4L829.8 395.9L829.5 394.4L829 393.9L828.8 394.6L828.2 394.2L828 396.5L827.5 396L827.2 391.8L826 390.4L825.8 388.2L825.2 387.8L825 390.7L824.5 390.2L824.2 392L823.8 391.5L823.5 389.2L823 388.7L822.8 386.1L822.2 385.6L822 389.9L821.5 389.4L821.2 390.2L820.8 389.7L820.5 383.5L820 382.7L819.8 382.9L819.2 382.1L819 382.7L817.8 380.4L817.5 379.5L817 378.7L816.8 378.8L816.2 378.1L816 379.1L815.5 378.4L815.2 380L814.8 379.2L814.5 375.2L814 375.2L813.8 376.6L813.2 376.6L813 379.1L812.5 379.1L812.2 378.8L811.8 378.8L811.5 377.3L811 377.3L810.8 376.3L810.2 376.3L810 378.5L809.5 378.5L809.2 376.5L808 376.8L807.8 377L807.2 377L807 375.7L806.5 375.7L806.2 376.4L805.8 376.4L805.5 376.9L805 376.9L804.8 375.4L804.2 375.4L804 376.3L803.5 376.3L803.2 375.1L802.8 375.1L802.5 376.3L802 376.3L801.8 379L801.2 379L801 375.2L800.5 375.2L800.2 376L798.2 376.4L798 377.8L797.5 377.8L797.2 378.4L796.8 378.4L796.5 378.9L796 378.9L795.8 378.1L795.2 378.1L795 379L793.8 379.2L793.5 376.4L793 376.4L792.8 378.2L792.2 378.2L792 377.7L791.5 377.7L791.2 376.8L790.8 376.8L790.5 378.9L789.2 379L789 377.2L788.5 377.2L788.2 375.8L787.8 375.8L787.5 375.3L786.2 375.4L786 378.5L784.8 378.5L784.5 377.9L784 377.9L783.8 379.1L783.2 379.1L783 375.1L782.5 375.1L782.2 378.3L781.8 378.3L781.5 377.3L781 377.3L780.8 377.6L780.2 377.6L780 378.8L779.5 378.9L779.2 377.6L778.8 377.7L778.5 376L778 376.2L777.8 379.9L777.2 380.1L777 378.2L776.5 378.5L776.2 377.4L775.8 377.8L775.5 378.7L775 379.1L774.8 377.7L772.8 381.7L772.5 384.7L772 385.6L771.8 384.5L771.2 385.4L771 388.1L769.8 391.1L769.5 388.4L769 389.2L768.8 388.1L768.2 388.6L768 394.5L767.5 395.1L767.2 394.3L766.8 394.9L766.5 394.3L766 394.8L765.8 393.7L765.2 394.3L765 397.1L764.5 397.7L764.2 392.6L763.8 393.1L763.5 394.4L763 394.9L762.8 394.4L762.2 395L762 398L761.5 398.5L761.2 401.7L760.8 402.3L760.5 398.3L760 398.9L759.8 400.8L759.2 401.4L759 404.8L758.5 405.4L758.2 404.8L757.8 405.3L757.5 399.7L757 400.1L756.8 404.8L756.2 404.9L756 402.5L755.5 402.6L755.2 399L754.8 399.1L754.5 407L754 407.1L753.8 407.6L753.2 407.7L753 402.6L752.5 402.7L752.2 400.8L751.8 400.9L751.5 404.8L751 404.9L750.8 402L750.2 402.1L750 408.1L749.5 408.2L749.2 409.6L748.8 409.7L748.5 406.3L748 406.4L747.8 400.2L747.2 400.3L747 407.9L746.5 408L746.2 400.7L745.8 400.8L745.5 405.4L745 405.5L744.8 401.1L744.2 401.2L744 406.8L743.5 406.9L743.2 405.9L742.8 406L742.5 401.5L742 401.5L741.8 407.4L741.2 407.4L741 409.8L740.5 409.9L740.2 402.6L739.8 402.9L739.5 408.2L739 408.5L738.8 402.4L738.2 402.7L738 404.9L737.5 405.2L737.2 404.9L736.8 405.2L736 406.4L735.8 409.1L735.2 409.9L735 413.1L733.8 415.9L733.5 412.2L733 413.2L732.8 414.9L732.2 415.8L732 412.8L731.5 413.7L731.2 412L730.8 412.8L730.5 422.7L730 421.5L729.8 415.2L729.2 414L729 409.5L728.5 408.4L728.2 417.1L727.8 415.8L727.5 416.3L727 415L726.8 412.3L726.2 411.1L726 406.4L725.5 405.3L725.2 403.4L724.5 401.6L723.2 378.4L722.8 371.7L722.5 370.6L635.5 370.6Z" fill="#D95319"/>
<path d="M1145.2 370.0L1145.8 361.0L1147.3 357.0L1147.9 352.0L1148.0 340.0L1148.5 338.8L1149.6 339.5L1149.9 352.0L1151.3 357.5L1152.5 362.0L1154.0 360.5L1155.5 363.0L1156.8 365.5L1158.0 368.0L1158.0 373.5L1156.0 376.0L1154.5 378.0L1153.0 377.5L1151.5 381.0L1150.3 389.0L1150.0 400.0L1149.0 401.0L1148.4 400.0L1148.2 389.0L1147.3 384.0L1145.8 380.0L1145.2 371.0Z" fill="#EDB120"/>
<path d="M1157.5 370.6L1158.0 369.1L1158.5 368.1L1159.0 367.7L1159.5 368.6L1160.0 369.8L1160.5 371.1L1161.0 372.3L1161.5 373.3L1162.0 372.7L1162.5 372.0L1163.0 370.6L1163.5 369.5L1164.0 369.0L1164.5 368.6L1165.0 369.1L1165.5 370.2L1166.0 371.0L1166.5 371.8L1167.0 372.7L1167.5 372.4L1168.0 371.4L1168.5 370.6L1169.0 369.9L1169.5 369.1L1170.0 369.4L1170.5 369.7L1171.0 370.1L1171.5 370.9L1172.0 371.5L1172.5 372.3L1173.0 372.1L1173.5 371.3L1174.0 370.6L1174.5 369.9L1175.0 369.3L1175.5 369.5L1176.0 369.4L1176.5 370.2L1177.0 371.1L1177.5 371.8L1178.0 371.8L1178.5 371.7L1179.0 371.2L1179.5 370.6L1180.0 370.0L1180.5 369.5L1181.0 369.1L1181.5 369.8L1182.0 370.1L1182.5 371.0L1183.0 371.7L1183.5 372.4L1184.0 372.1L1184.5 371.4L1185.0 370.6L1185.5 369.6L1186.0 369.3L1186.5 368.4L1187.0 369.5L1187.5 370.0L1188.0 371.2L1188.5 371.7L1189.0 372.9L1189.5 372.4L1190.0 371.8L1190.5 370.6L1191.0 369.7L1191.5 368.9L1192.0 367.9L1192.5 369.1L1193.0 369.9L1193.5 371.4L1194.0 372.8L1194.5 372.8L1195.0 372.6L1195.5 371.9L1196.0 370.6L1196.5 369.5L1197.0 368.1L1197.5 367.8L1198.0 368.4L1198.5 370.1L1199.0 371.5L1199.5 372.1L1200.0 372.9L1200.5 373.0L1201.0 372.2L1201.5 370.6L1202.0 369.0L1202.5 368.4L1203.0 368.5L1203.5 369.0L1204.0 370.1L1204.5 371.1L1205.0 372.0L1205.5 373.0L1206.0 373.1L1206.5 371.6L1207.0 370.6L1207.5 369.2L1208.0 368.7L1208.5 368.7L1209.0 369.3L1209.5 370.0L1210.0 371.2L1210.5 371.9L1211.0 372.3L1211.5 371.8L1212.0 371.7L1212.5 370.6L1213.0 369.7L1213.5 368.9L1214.0 369.4L1214.5 369.3" fill="none" stroke="#EDB120" stroke-width="2.4" stroke-linejoin="round"/>
<path d="M1214 370.1L1214.2 370.1L1214.5 367.4L1215 350L1215.2 350.1L1215.5 347.9L1216 348L1216.2 345.9L1216.8 346L1217 350.2L1218.2 350.6L1218.5 349.7L1219 349.8L1219.2 345.9L1219.8 346L1220 350.7L1220.5 354.8L1220.8 353.3L1221 355.6L1221.2 355.6L1221.5 356L1222 356L1222.2 359L1222.8 358.9L1223 356.6L1223.5 356.5L1223.8 357L1225 357.1L1225.2 353.7L1225.8 353.6L1226 358.8L1226.5 358.8L1226.8 359.2L1227.2 359.1L1227.5 353.7L1228 353.7L1228.2 356.8L1228.8 356.8L1229 357.9L1229.5 357.9L1229.8 357.1L1230.2 357L1230.5 356.8L1231.8 326.9L1232 330.4L1233.2 329.7L1233.5 325.2L1234 325L1234.2 325.3L1234.8 325.1L1235 320L1235.5 319.8L1235.8 321L1236.2 320.8L1236.5 323.7L1236.8 324L1237.2 328L1237.8 327.8L1238 319.9L1238.5 319.6L1238.8 317.6L1239.2 317.3L1239.5 329.1L1239.8 329L1240 315.3L1240.2 310.1L1240.5 309.3L1241.8 309.2L1242 309.4L1242.2 311.3L1242.8 329.4L1243 329.7L1243.2 323.1L1243.8 323.7L1244 324.8L1244.2 325.1L1244.8 308.2L1245 306.3L1245.2 306L1246.5 306.1L1246.8 307L1247 312.5L1247.2 335.4L1247.5 336.4L1247.8 333.4L1249 334.8L1249.2 334.4L1249.5 334.7L1250 306.9L1250.2 305.6L1251 305.4L1251.8 305.6L1252 306.9L1252.2 314.4L1252.5 332.3L1253.2 333.1L1253.5 332.7L1253.8 334.2L1254.2 333.4L1254.5 337.8L1254.8 304L1255 295.1L1255.2 293.5L1256 293.3L1256.8 293.5L1257 295.1L1257.5 329.1L1258 328.3L1258.2 334.4L1258.8 333.6L1259 332.1L1259.5 331.4L1259.8 285.1L1260 272.3L1260.2 269.9L1260.5 269.7L1261.5 269.7L1261.8 269.8L1262 271.7L1262.2 282.3L1262.5 325L1262.8 323.9L1263.2 323.1L1263.5 316.2L1264 315.5L1264.2 319.1L1264.5 314.9L1264.8 288.5L1265 282.4L1265.2 281.4L1266.5 281.4L1266.8 281.9L1267 285.3L1267.5 319.9L1267.8 320.1L1268 324.7L1268.5 325.1L1268.8 321.1L1269.2 321.6L1269.5 324.5L1270 324.9L1270.2 321.2L1270.5 297.4L1270.8 291.9L1271 291L1272.2 291L1272.5 291.4L1272.8 294.4L1273.2 331.8L1273.8 332.1L1274 330.7L1274.5 331.1L1274.8 327.1L1275.2 327.5L1275.5 326.1L1276 299L1276.2 297.5L1276.5 297.4L1277.5 297.4L1277.8 297.5L1278 299.1L1278.2 307.9L1278.5 334.8L1279 335.2L1279.2 334.4L1279.8 334.8L1280 332.5L1280.5 332.9L1280.8 332.9L1281.2 309.5L1281.5 307.2L1281.8 306.9L1282.8 306.9L1283 307L1283.2 307.8L1283.5 312.5L1283.8 332.9L1284 334.7L1284.5 335.4L1285 335.8L1285.2 333.3L1285.8 333.2L1286 335.1L1286.2 329.7L1286.5 313.3L1286.8 309.7L1287 309.1L1288.2 309.1L1288.5 309.5L1288.8 312.2L1289.2 338.5L1289.5 338.4L1289.8 341.7L1290.2 341.6L1290.5 338L1291 337.9L1291.2 338.7L1291.5 336.9L1291.8 309.6L1292 302.9L1292.2 301.7L1292.5 301.6L1293.5 301.6L1293.8 301.8L1294 303.6L1294.5 332.3L1294.8 332.3L1295 340.3L1295.5 340.3L1295.8 334.6L1296.2 334.5L1296.5 338.5L1297 338.4L1297.2 336.8L1297.5 308.7L1297.8 301.9L1298 300.7L1298.2 300.5L1299.2 300.6L1299.5 300.8L1299.8 302.6L1300.2 335.3L1300.8 335.2L1301 332.7L1301.5 332.6L1301.8 334.3L1302.2 334.2L1302.5 330.7L1303 301.9L1303.2 299.8L1303.5 299.5L1304.5 299.5L1304.8 299.6L1305 300.6L1305.2 306.6L1305.5 331.9L1305.8 334.1L1306 334.1L1306.2 331.4L1306.8 331.4L1307 334L1307.5 334.1L1307.8 337.6L1308.2 299.7L1308.5 295.8L1308.8 295.3L1309 295.2L1310 295.3L1310.2 295.8L1310.5 299.7L1311 329.9L1311.2 330L1311.5 332.6L1312 332.7L1312.2 333.9L1312.8 334L1313 338.2L1313.2 338.3L1313.8 294.9L1314 289.3L1314.2 288.5L1314.5 288.4L1315.5 288.4L1315.8 288.9L1316 292.1L1316.5 339.2L1316.8 336.8L1317.2 336.9L1317.5 337.7L1318 337.8L1318.2 336.6L1318.5 336.7L1318.8 333.1L1319 295.4L1319.2 286L1319.5 284.3L1320 284.1L1320.8 284.1L1321 284.4L1321.2 286.3L1321.5 296.9L1321.8 333.9L1322 334.4L1322.5 334.5L1322.8 333.6L1323.2 333.7L1323.5 341.5L1324 341.6L1324.2 336L1324.5 296.3L1324.8 284L1325 281.7L1325.2 281.4L1326.5 281.5L1326.8 283L1327 291.6L1327.2 326.8L1327.5 334.8L1327.8 334.8L1328 339L1329.2 337.6L1329.5 333.4L1330 285L1330.2 280.9L1330.5 280.3L1331.8 280.4L1332 281.2L1332.2 286.5L1332.8 335.5L1333 335.3L1333.2 331.4L1333.8 331L1334 334.3L1334.5 333.9L1334.8 329.4L1335 329.2L1335.5 284.5L1335.8 279.1L1336 278.2L1336.2 278.2L1337.2 278.2L1337.5 278.8L1337.8 283L1338.2 329.7L1338.5 329.3L1339 329.5L1339.2 324.7L1339.8 325L1340 332.4L1340.5 332.6L1341 284.9L1341.2 277.7L1341.5 276.6L1341.8 276.5L1342.8 276.5L1343 276.9L1343.2 280.1L1343.8 331.7L1344.2 331.9L1344.5 337L1345.8 337.5L1346 333.6L1346.2 326.7L1346.5 290.8L1346.8 282L1347 280.5L1347.2 280.3L1348.2 280.3L1348.5 280.6L1348.8 282.9L1349 295.2L1349.2 332.6L1349.5 332.2L1349.8 333.7L1350.2 333L1350.5 328.6L1351 327.9L1351.2 333.5L1351.8 332.9L1352 288.9L1352.2 277L1352.5 274.8L1352.8 274.6L1353.8 274.6L1354 274.7L1354.2 276.6L1354.5 287L1354.8 327.8L1355 330.2L1355.5 329.6L1355.8 323.4L1356.2 322.7L1356.5 327.1L1357 326.5L1357.2 323.8L1357.8 282.4L1358 279.6L1358.2 279.3L1359.5 279.4L1359.8 280.6L1360 288.4L1360.2 318.8L1360.8 319.2L1361 314.9L1361.5 315.3L1361.8 322.7L1362.2 323.1L1362.5 322.3L1362.8 322.5L1363.2 294.2L1363.5 291L1363.8 290.6L1365 290.6L1365.2 291.4L1365.5 296.7L1365.8 319.8L1366 324.7L1366.2 319.8L1366.8 320.3L1367 327.6L1367.5 328L1367.8 322.5L1368.2 322.9L1368.8 288.2L1369 283.6L1369.2 282.9L1369.5 282.9L1370.5 282.9L1370.8 283.5L1371 288L1371.5 321.3L1372 321.2L1372.2 323.3L1372.8 323.2L1373 331.8L1373.5 331.7L1373.8 329.5L1374.2 286.6L1374.5 280.3L1374.8 279.3L1376 279.3L1376.2 279.7L1376.5 283.3L1377 331.3L1377.2 331.2L1377.5 328L1378 327.9L1378.2 331.1L1378.8 331L1379 326.6L1379.5 326.5L1379.8 299.3L1380 292.2L1380.2 291.1L1380.5 291L1381.5 291L1381.8 291.2L1382 293.6L1382.5 330.6L1382.8 321L1383.2 320.9L1383.5 325.3L1384 325.2L1384.2 324.7L1385 324.5L1385.5 305.2L1385.8 303.9L1386 303.7L1387 303.7L1387.2 303.9L1387.5 305.4L1388 320.8L1388.5 320.7L1388.8 325.5L1389.2 325.4L1389.5 327.5L1390 327.4L1390.2 328.3L1390.5 328.3L1391 308.9L1391.2 307.1L1391.5 306.9L1392.8 307L1393 308.1L1393.5 318.2L1393.8 318.2L1394 325.6L1394.5 325.7L1394.8 324.9L1395.2 325L1395.5 324.7L1396 324.8L1396.5 289.1L1396.8 286L1397 285.7L1398.2 285.7L1398.5 286.7L1398.8 292.9L1399 319.6L1399.2 321.6L1399.8 321.7L1400 325.2L1400.5 325.3L1400.8 325.9L1401 326L1401.2 323.5L1401.5 296.7L1401.8 290.4L1402 289.3L1403.2 289.3L1403.5 289.6L1403.8 292.4L1404.2 321.4L1404.5 319.2L1405 318.9L1405.2 324.8L1405.8 324.6L1406 322.9L1406.5 322.7L1406.8 319.7L1407 294.7L1407.2 286.2L1407.5 284.7L1408.8 284.6L1409 284.8L1409.2 287L1409.8 317.4L1411 316.9L1411.2 326.3L1411.8 326.1L1412 322.7L1412.2 322.6L1412.8 284.7L1413 282.7L1413.2 282.4L1414.2 282.4L1414.5 282.6L1414.8 284.3L1415 293.6L1415.2 323.5L1415.5 323.7L1415.8 325.3L1416.2 325.7L1416.5 326.4L1417 326.8L1417.2 324.9L1417.8 325.3L1418.2 287.2L1418.5 284.5L1418.8 284.2L1420 284.2L1420.2 285.4L1420.5 292.6L1420.8 322.8L1421 330L1421.5 330.3L1421.8 323L1422.2 323.5L1422.5 332.1L1423 332.5L1423.2 326.1L1423.5 326.3L1424 307.2L1424.2 305.1L1424.5 304.8L1425.8 304.9L1426 305.8L1426.2 311.2L1426.5 330.1L1426.8 330.5L1427 334.4L1427.5 335.1L1427.8 339L1429 340.4L1429.8 323.6L1430 322L1430.2 321.9L1431.5 321.9L1431.8 322.6L1432 326.5L1432.2 338.2L1432.8 338.8L1433 340.9L1433.5 341.4L1433.8 345.4L1434.2 345.8L1434.5 341.4L1435 341.9L1435.2 344.6L1435.8 338.7L1436 337.9L1437.5 337.9L1437.8 338.5L1438 341.8L1438.2 349L1438.8 349.5L1439 345.1L1439.5 345.7L1439.8 346.6L1440.2 347.2L1440.5 345.6L1440.8 346L1441 348.4L1441 370.6L1440.8 370.6L1439.8 376.2L1439.2 377.5L1439 377.6L1438.8 377.4L1438.5 376.8L1437.8 373.1L1437.5 373.4L1437.2 377L1436.2 384.2L1435.8 392.8L1435 394L1434.2 394L1434 377.7L1433.8 378L1433.5 377.9L1433 378.5L1432.8 377.2L1432.2 377.7L1431.8 383.6L1430.8 391.3L1430.2 400.9L1429.5 402.2L1428.8 402.3L1428.5 385.1L1428.2 387L1427.8 387.8L1427.5 387L1427 387.8L1426.8 385.4L1426.2 386.1L1426 391.3L1425 402.7L1424.5 416.8L1423.8 418.8L1423 418.8L1422.8 392L1422.5 392.3L1422.2 394.7L1421.8 395.5L1421.5 393.7L1421 394.4L1420.8 394.1L1420.5 394.5L1419.5 406.9L1419 420L1418.2 421.8L1417.5 421.9L1417.2 397.4L1417 400.4L1416.5 400.7L1416.2 400.4L1415.8 400.8L1415.5 403.9L1415 404.3L1414.8 403.4L1414.5 403.6L1414.2 404.6L1413.5 415.7L1412.8 416.9L1412 417L1411.8 407.2L1411.2 407.5L1411 401.4L1410.5 401.6L1410.2 403.2L1409.8 403.4L1409.5 408.2L1409 408.4L1408.8 409.6L1408.5 409.7L1408 418.1L1407.8 419.1L1407 420.2L1406.2 420.2L1406 408L1405.8 406.9L1405.2 407.2L1405 409.3L1404.5 409.6L1404.2 404.9L1404 405.1L1403.8 406.6L1403.5 413.8L1403 414.1L1402.5 424.7L1401.8 426.1L1401 426.1L1400.8 405.5L1400.5 406L1400 406.1L1399.8 411L1399.2 411.2L1399 415.3L1398.5 415.4L1398.2 407.7L1397.5 416L1397 428.2L1396.2 429.9L1395.5 429.9L1395.2 413L1394.8 413.2L1394.5 414.8L1394 414.9L1393.8 406.4L1393.2 406.5L1393 416.1L1392.5 416.3L1392.2 412.9L1392 412.9L1391.8 413.7L1391.5 416.2L1390.8 416.9L1390 417L1389.8 411.5L1389.5 411.6L1389.2 411L1388.8 411.2L1388.5 414.4L1388 414.6L1387.8 408.5L1387.2 411.4L1387 416L1386.8 416.1L1386.2 425.1L1385.2 426.7L1384.5 426.7L1384.2 416.5L1384 417.1L1383.5 417.4L1383.2 412.9L1382.8 413.1L1382.5 419.9L1382 420.2L1381.8 417.5L1381.5 417.6L1381 421.4L1380.2 422.2L1379.5 422.2L1379.2 417.5L1379 417.5L1378.8 411L1378.2 411.1L1378 418.1L1377.5 418.2L1377.2 419.4L1376.8 419.5L1376.5 418.8L1376.2 418.8L1375.5 433L1374.8 434.6L1374 434.6L1373.8 421.7L1373.5 419.5L1373 419.6L1372.8 416.5L1372.2 416.6L1372 413.6L1371.5 413.7L1371.2 416.8L1371 416.9L1370.8 417.3L1370.5 424.1L1370.2 424.1L1370 428.3L1369.2 429.5L1368.5 429.6L1368.2 423.5L1367.8 423.5L1367.5 417.6L1367 417.6L1366.8 418.8L1366.2 418.8L1366 423.9L1365.5 423.9L1365.2 419.1L1364.5 436.1L1363.8 437.9L1363.5 438.1L1363 438.1L1362.8 419.2L1362.5 419.2L1362.2 416.4L1361.8 416.4L1361.5 425L1361 425L1360.8 413.5L1360.2 413.5L1360 419.8L1359.5 419.8L1359.2 420.7L1359 425.7L1358.8 426.5L1358 427.4L1357.2 427.4L1357 413.7L1356.5 413.7L1356.2 417.9L1355.8 417.9L1355.5 422.5L1355 422.5L1354.8 414.5L1354.5 415L1353.8 422.8L1353.5 429.7L1353.2 431.9L1352.5 433.2L1351.8 433.2L1351.5 425.2L1351.2 425.2L1351 416.3L1350.5 416.3L1350.2 424.3L1349.8 424.3L1349.5 415.8L1349 415.8L1348.2 422.4L1347.8 433L1347 434.4L1346.2 434.4L1346 414.1L1345.8 419.4L1345.2 419.4L1345 418.6L1344.5 418.3L1344.2 419.3L1343.8 419L1343.5 413.6L1342.8 423.5L1342.2 439.6L1341.5 441.9L1340.8 441.9L1340.5 413.4L1340 413.1L1339.8 419.1L1339.2 418.7L1339 411.1L1338.5 410.7L1338.2 412.6L1338 412.4L1337.5 418.9L1337 436.3L1336.2 438.6L1336 438.8L1335.5 438.8L1335.2 409L1334.8 408.7L1334.5 406.8L1334 406.5L1333.8 410.6L1333.2 410.2L1333 411.3L1332.5 410.9L1332.2 411L1331.8 419.7L1331.5 428.7L1330.8 430.9L1330.5 431.2L1329.8 431.2L1329.2 405.2L1328.8 405.3L1328.5 406.3L1328 406.4L1327.8 412.7L1327.2 412.8L1327 410.2L1326.8 410.2L1326.2 415L1326 421.1L1325.8 422.7L1325 423.8L1324.2 423.8L1324 416L1323.5 416.1L1323.2 407.3L1322.8 407.4L1322.5 411L1322 411.1L1321.8 413.5L1321 413.8L1320.2 427.7L1319.5 429.2L1318.8 429.2L1318.5 417L1318.2 417L1318 408L1317.5 408L1317.2 406.7L1316.8 406.7L1316.5 411.6L1316 411.6L1315.8 417.1L1315.2 417.1L1314.8 424.5L1314 425.8L1313.2 425.8L1313 414.4L1312.8 415.6L1312.2 415.6L1312 416.8L1311.5 416.8L1311.2 411.6L1310.8 411.6L1310.5 415.8L1310 415.8L1309.8 419.9L1309.2 436.7L1308.5 439L1307.8 439L1307.5 408.8L1307 408.8L1306.8 415.2L1306.2 415.3L1306 406.1L1305.5 406.2L1305.2 416.4L1304.8 416.5L1304 441.4L1303.2 444L1303 444.3L1302.5 444.3L1302.2 418L1301.8 418.1L1301.5 417.9L1301 418L1300.8 410.8L1300.2 410.9L1300 409.2L1299 421.8L1298.8 431.1L1298.5 434.1L1298 435.4L1297.8 435.9L1297 435.9L1296.8 416.4L1296.5 416.4L1296.2 418.4L1295.8 418.5L1295.5 408.2L1295 408.2L1294.2 412.7L1294 419.4L1293.8 419.4L1293.2 431.3L1292.5 433L1291.8 433L1291.5 412.6L1291.2 412.6L1291 418.8L1290.5 418.8L1290.2 413.8L1289.8 413.8L1289.5 415L1289 415L1288.8 417.3L1288.5 417.3L1288.2 419.8L1287.8 434.4L1287 436.3L1286.2 436.4L1285.8 409.1L1285.2 409.1L1285 412.8L1284.5 413.7L1284.2 411.8L1284 412.2L1283 428L1282.5 446.2L1281.8 448.9L1281.5 449.3L1280.8 449.3L1280.5 429L1280 430L1279.8 421.5L1279.2 422.4L1279 429.4L1278.5 430.3L1278.2 433.5L1277.8 434.5L1277.2 446.2L1277 460.3L1276.8 463.8L1276 466.3L1275.2 466.3L1275 425.1L1274.8 425.5L1274.5 429.7L1274 429.7L1273.8 428L1273.2 428L1273 435.9L1272.5 436L1272.2 440.5L1271.8 458.7L1271 461.3L1270.2 461.3L1270 439.1L1269.5 439.1L1269.2 428.9L1268.8 428.9L1268.5 437.1L1268 437.1L1267.8 431.7L1267.5 431.7L1267.2 434.4L1266.5 457.6L1265.8 460.1L1265.5 460.4L1265 460.4L1264.8 435.4L1264.2 435.4L1264 439.3L1263.5 439L1263.2 440.2L1262.8 439.8L1262.5 432.5L1262.2 432.3L1261.8 440.3L1261.2 458.9L1260.5 461.5L1259.8 461.5L1259.5 423.2L1259 422.9L1258.8 423.1L1258.2 422.8L1258 425L1257.5 424.7L1257.2 427.3L1257 427.1L1256.8 428.4L1256.2 440L1255.5 441.5L1254.8 441.6L1254.2 420.7L1253.8 420.4L1253.5 420.6L1253 420.3L1252.8 428.8L1252.2 428.4L1252 424.6L1251.5 424.3L1251.2 429.2L1250.8 428.8L1250.2 429.3L1249.5 429.3L1249.2 417.6L1249 422.3L1248.5 422L1248.2 429.4L1247.8 429L1247.5 421L1247 420.6L1246.8 418.4L1246.5 419.6L1246 427.2L1245.2 428.3L1244.5 428.3L1244.2 421.2L1244 421L1243.8 423.2L1243.2 422.8L1243 420.1L1241.8 418.8L1241.5 420.6L1241 420L1240.8 420.6L1240.2 420L1240 412.4L1239.5 412.6L1239.2 420.1L1238.8 419.5L1238.5 412L1238 411.4L1237.8 409.4L1237.2 408.9L1237 410.8L1236.5 410.2L1236.2 407.1L1235.8 410.9L1235 411.4L1234.2 411.4L1234 405.4L1232.8 403.5L1232.5 412.2L1232 411.6L1231.8 400.5L1230.5 388.7L1229.8 392.3L1229 401.6L1228.2 402.5L1227.5 402.7L1227.2 393L1226.8 393L1226.5 390.6L1226 393.8L1225.5 400.1L1224.8 401L1224 401L1223.8 387.4L1223.5 390L1223 389.9L1222.8 393.5L1222.2 393.4L1222 393.9L1221.5 393.8L1221.2 390.8L1221 390.8L1220 404.1L1219.8 401L1219.2 400.9L1219 397.1L1218.5 397L1218.2 402.5L1217.8 402.4L1217.5 400.4L1217 400.3L1216.8 403.8L1216.2 403.7L1216 398.3L1215.5 398.2L1215.2 397.4L1215 397.3L1214.5 375L1214.2 371.2L1214 371.2Z" fill="#EDB120"/>
<path d="M1526.0 368.3L1526.5 366.8L1527.0 367.2L1527.5 368.3L1528.0 369.9L1528.5 371.5L1529.0 372.9L1529.5 374.1L1530.0 373.2L1530.5 372.6L1531.0 370.8L1531.5 369.1L1532.0 367.9L1532.5 368.0L1533.0 368.4L1533.5 369.5L1534.0 370.9L1534.5 372.2L1535.0 373.2L1535.5 372.5L1536.0 372.3L1536.5 371.0L1537.0 369.7L1537.5 369.1L1538.0 369.1L1538.5 368.7L1539.0 369.6L1539.5 370.7L1540.0 371.3L1540.5 371.8L1541.0 372.2L1541.5 371.6L1542.0 371.1L1542.5 370.3L1543.0 369.8L1543.5 369.4L1544.0 369.7L1544.5 369.9L1545.0 370.5L1545.5 371.0L1546.0 371.3L1546.5 371.4L1547.0 371.2L1547.5 370.9L1548.0 370.5L1548.5 370.3L1549.0 370.1L1549.5 370.2L1550.0 370.3L1550.5 370.5L1551.0 370.8L1551.5 371.0L1552.0 371.0L1552.5 371.0L1553.0 370.8L1553.5 370.6L1554.0 370.3L1554.5 370.3L1555.0 370.2L1555.5 370.2L1556.0 370.5L1556.5 370.7L1557.0 371.0L1557.5 370.9L1558.0 371.0L1558.5 370.9L1559.0 370.6L1559.5 370.4L1560.0 370.2L1560.5 370.2L1561.0 370.3L1561.5 370.4L1562.0 370.7L1562.5 370.9L1563.0 371.1L1563.5 371.0L1564.0 371.0L1564.5 370.7L1565.0 370.4L1565.5 370.2L1566.0 370.1L1566.5 370.1L1567.0 370.4L1567.5 370.6L1568.0 370.9L1568.5 371.0L1569.0 371.0L1569.5 371.0L1570.0 370.7L1570.5 370.5L1571.0 370.2L1571.5 370.2L1572.0 370.2L1572.5 370.3L1573.0 370.6L1573.5 370.8L1574.0 370.9L1574.5 371.1L1575.0 370.9L1575.5 370.8L1576.0 370.5L1576.5 370.2L1577.0 370.2L1577.5 370.2L1578.0 370.2L1578.5 370.5L1579.0 370.7L1579.5 371.0L1580.0 371.0L1580.5 370.9L1581.0 370.8L1581.5 370.6L1582.0 370.3L1582.5 370.2L1583.0 370.1L1583.5 370.2L1584.0 370.4L1584.5 370.7L1585.0 370.9L1585.5 371.0L1586.0 371.0L1586.5 370.9L1587.0 370.6L1587.5 370.3L1588.0 370.3L1588.5 370.3L1589.0 370.2L1589.5 370.5" fill="none" stroke="#7E2F8E" stroke-width="2" stroke-linejoin="round"/>
<path d="M1588.5 369.8L1589.4 362.0L1590.0 355.3L1590.6 365.0L1592.0 366.0L1593.5 364.0L1595.0 367.0L1596.5 360.0L1597.3 362.0L1598.5 366.0L1598.5 380.0L1597.5 376.0L1596.0 374.0L1594.5 377.5L1592.5 373.0L1591.0 375.0L1589.6 375.6L1588.5 371.4Z" fill="#7E2F8E"/>
<path d="M1588.5 370.1L1598.2 370.1L1599 365.8L1599.5 364L1599.8 363.7L1600 363.6L1600.2 363.9L1600.8 365.6L1601 363.4L1601.2 362.6L1601.8 356.4L1602 349.9L1603.2 333.1L1603.5 335.8L1603.8 332.9L1604 331.9L1604.2 322.2L1604.8 319.9L1605 328.3L1605.5 326.3L1605.8 314.2L1607 308.8L1607.2 316.7L1607.8 314.7L1608 305.9L1609 301.3L1609.2 295.6L1609.5 264.2L1609.8 255.8L1610 254.4L1610.8 254.3L1611 254.9L1611.2 259.1L1611.8 292.5L1612.2 292.3L1612.5 296.1L1613 295.9L1613.2 290.8L1613.8 290.6L1614 306.6L1614.5 306.4L1615 289.4L1615.2 287.5L1615.5 287.3L1616.2 287.5L1616.5 289.3L1617 303.9L1617.5 304.3L1617.8 292.2L1618.2 292.6L1618.5 293.5L1619 293.9L1619.2 303.4L1620 304L1620.2 289.9L1620.5 286.7L1620.8 286.3L1621.5 286.3L1621.8 287.3L1622.2 299.6L1622.8 300L1623 303L1623.5 303.3L1623.8 305.1L1624.2 305.5L1624.5 311.8L1625 312.1L1625.2 310.5L1625.8 297.7L1626 297L1626.8 296.9L1627 297.4L1627.2 300.5L1627.5 308L1628 308.5L1628.2 303.8L1628.8 304.3L1629 307.7L1629.5 308.2L1629.8 303.3L1630.2 303.8L1630.5 307.5L1630.8 307.8L1631 303.7L1631.2 302.4L1632 302.3L1632.2 302.4L1632.5 304.1L1633 318.7L1633.5 319.5L1634 318.4L1634.2 305.4L1635.5 301.2L1635.8 302.4L1636.2 281.2L1636.5 278.1L1636.8 277.8L1637.2 277.8L1637.5 277.9L1637.8 279.1L1638 286.4L1638.2 307.7L1638.5 308.4L1638.8 296.5L1639.2 298.1L1639.5 302.7L1640 304.2L1640.2 303.5L1640.5 304.3L1641 291.3L1641.2 289.6L1642 289.5L1642.2 289.7L1642.5 291.5L1643 310.8L1643.2 310L1643.8 311.7L1644 322.1L1644.2 322.6L1644.5 322L1644.8 318.7L1645.2 317.4L1645.5 312.6L1646 311.2L1646.2 311.3L1646.8 309.9L1647 313.2L1648.2 309.3L1648.5 300.6L1649 299.1L1649.2 309.4L1649.8 308.2L1650 308.6L1650.5 307.3L1650.8 299.3L1651.2 299.8L1651.5 306.8L1651.8 299.9L1652 296.4L1652.2 295.9L1653 295.9L1653.2 296.6L1653.5 300.8L1653.8 298.6L1654.2 299.1L1654.5 308.1L1655 308.6L1655.2 300.8L1655.8 301.4L1656 303.7L1656.5 304.3L1657 289.3L1657.2 287.9L1658 287.8L1658.2 288L1658.5 290.2L1659 317.7L1659.5 318.1L1659.8 316L1660.2 316.4L1660.5 309.4L1661 309.8L1661.2 318.8L1661.8 319.2L1662 316.9L1662.5 295.7L1662.8 293.9L1663 293.7L1663.8 293.9L1664 295.4L1664.5 317.5L1664.8 317.7L1665 319.3L1665.5 319.7L1665.8 313.6L1666.2 314L1666.5 321.9L1667 322.3L1667.2 310.5L1667.8 310.9L1668 310.3L1668.2 302L1668.5 300.3L1668.8 300.1L1669.5 300.3L1669.8 301.6L1670.2 319.7L1670.8 320.1L1671 314.1L1671.5 314.6L1671.8 315.8L1672.2 316.2L1672.5 317.3L1673 317.8L1673.2 315.8L1673.5 303.4L1673.8 300.5L1674 300.1L1674.8 300.2L1675 300.9L1675.2 305.5L1675.5 322.2L1676 322.6L1676.2 324.3L1676.8 324.7L1677 323.3L1677.5 323.7L1677.8 329.5L1678.2 329.9L1678.8 304.6L1679 299.9L1679.2 299.1L1680 299.1L1680.2 299.4L1680.5 302.3L1681 327.7L1681.2 327.7L1681.5 326.7L1682 326.7L1682.2 329.5L1682.8 329.5L1683 325.7L1683.5 325.7L1683.8 322.9L1684.2 309L1684.5 307.7L1685.2 307.6L1685.5 307.7L1685.8 309.2L1686 316.4L1686.2 331.8L1686.5 331.8L1686.8 323.7L1687.2 323.7L1687.5 326.5L1688 326.5L1688.2 324L1688.8 324L1689 323.6L1689.5 300.9L1689.8 298.3L1690 298L1690.8 298.1L1691 299L1691.2 304.4L1691.5 324.4L1691.8 329.2L1692 323.1L1692.5 322.4L1692.8 323.3L1693.2 322.6L1693.5 327.8L1694 327.2L1694.2 323.6L1694.8 281L1695 275.5L1695.2 274.6L1696 274.6L1696.2 275.2L1696.5 279.6L1697 324.1L1697.2 319.9L1697.8 319.1L1698 324L1698.5 323.1L1698.8 316.8L1699.2 315.8L1699.5 309.1L1699.8 308.5L1700 306.6L1700.2 279L1700.5 271.6L1700.8 270.4L1701.5 270.3L1701.8 270.7L1702 274.3L1702.5 308.8L1703.8 311L1704 321.1L1704.5 321.9L1704.8 312L1705.2 312.8L1705.5 319.8L1705.8 290L1706 281.6L1706.2 280L1707 279.9L1707.2 280.2L1707.5 282.6L1708 322.5L1708.2 322.9L1708.5 325.8L1709 326.5L1709.2 318.2L1709.8 319L1710 327.4L1710.5 328.2L1710.8 320.7L1711 321.1L1711.5 289.5L1711.8 287.5L1712 287.3L1712.8 287.5L1713 289.2L1713.2 297.8L1713.5 325.1L1713.8 326.4L1714.2 326L1714.5 331.8L1715 331.4L1715.2 321.6L1715.8 321.2L1716 327.7L1716.5 327.3L1717 294.7L1717.2 292.3L1717.5 292L1718.2 292.1L1718.5 293.3L1718.8 299.8L1719 323.4L1719.2 323.8L1719.5 323.6L1719.8 325.9L1720.2 325.6L1720.5 321L1721 320.6L1721.2 319.6L1721.8 319.2L1722 317.7L1722.2 315.6L1722.5 303.4L1722.8 300.5L1723 300.1L1723.8 300.2L1724 300.9L1724.5 316.4L1724.8 316.4L1725 323.4L1726.2 323.5L1726.5 319.5L1727 319.5L1727.2 315.9L1727.5 315.9L1727.8 297.3L1728 292.1L1728.2 291.2L1728.5 291.2L1729 291.2L1729.2 291.6L1729.5 294.8L1730 320.1L1730.2 316.5L1730.8 316.5L1731 324.5L1731.5 324.5L1731.8 320.8L1732.2 320.8L1732.5 325L1732.8 323.3L1733 290.7L1733.2 281.2L1733.5 279.4L1733.8 279.3L1734.2 279.3L1734.5 279.5L1734.8 281.6L1735.2 317.7L1735.5 316.7L1736 316.9L1736.2 322L1736.8 322.2L1737 316.8L1737.5 317L1737.8 326.3L1738.2 326.5L1738.8 299.1L1739 297.1L1739.2 296.9L1740 297L1740.2 298.3L1740.5 305.1L1740.8 326.3L1742 326.9L1742.2 327.9L1742.8 328.1L1743 318.7L1743.5 318.9L1743.8 325.6L1744.2 291.7L1744.5 288.8L1744.8 288.4L1745.5 288.5L1745.8 289.5L1746 295.6L1746.2 318.2L1746.5 318.5L1746.8 326.4L1747.2 326.3L1747.5 317.2L1748 317L1748.2 316L1748.8 315.8L1749 316.9L1749.2 316.8L1749.8 279.6L1750 275.2L1750.2 274.6L1751 274.6L1751.2 275.5L1751.5 281L1752 314.5L1752.5 314.2L1752.8 323.1L1753.2 322.9L1753.5 315.3L1754 315.1L1754.2 315.9L1754.8 315.7L1755 321.3L1755.5 266.6L1755.8 261.5L1756 260.7L1756.8 260.8L1757 261.7L1757.2 268L1757.8 319.7L1758 318.9L1758.5 318.9L1758.8 314.2L1759.2 314.2L1759.5 319.5L1760 319.5L1760.2 322.6L1760.8 261.1L1761 252.1L1761.2 250.6L1762 250.5L1762.2 251L1762.5 255.2L1763 322.3L1763.2 316.8L1763.8 316.8L1764 313.9L1764.5 313.9L1764.8 322.7L1765.2 322.7L1765.5 315.2L1766 315.5L1766.2 316.4L1766.8 264.1L1767 257.2L1767.2 256.1L1768 256.1L1768.2 256.7L1768.5 261.8L1769 319.9L1769.2 325L1770.5 326.3L1770.8 319L1771.2 319.4L1771.5 326.8L1772 327.2L1772.2 329.6L1772.8 240.7L1773 234L1773.2 233.1L1773.8 233L1774 233.1L1774.2 234.2L1774.5 241.8L1775 329.1L1775.2 328.1L1775.8 328.5L1776 327.1L1776.5 327.3L1776.8 324.9L1777.2 324.9L1777.5 333.5L1777.8 333.5L1778.2 284.5L1778.5 278.7L1778.8 277.8L1779 277.8L1779.5 277.8L1779.8 278.3L1780 282.3L1780.5 328.8L1781 328.8L1781.2 322.7L1781.8 322.7L1782 328.4L1782.5 328.4L1782.8 326L1783.2 326L1783.5 333.2L1783.8 333.2L1784.2 285.1L1784.5 280.6L1784.8 279.9L1785.5 279.9L1785.8 280.7L1786 285.5L1786.5 331.6L1787 331.6L1787.2 328.6L1787.8 328.4L1788 332.2L1788.5 332L1788.8 326.3L1789.2 326.1L1789.5 321.4L1790 321.1L1790.2 322.3L1790.5 297.3L1790.8 287.4L1791 285.4L1791.2 285.2L1792 285.4L1792.2 287.1L1792.5 295.9L1792.8 322.8L1793 322.7L1793.2 323.7L1793.8 323.5L1794 325.5L1794.2 325.4L1794.5 317L1794.8 267.3L1795 252.4L1795.2 249.3L1795.5 249L1796 249L1796.2 249.2L1796.5 251.4L1796.8 263.2L1797.2 319.9L1797.5 319.8L1797.8 321.6L1798.2 322.9L1798.5 322L1799 323.3L1799.2 322.3L1800.2 324.6L1801 265.1L1801.2 263L1801.5 262.8L1802 262.9L1802.2 263.1L1802.5 265.7L1802.8 278.4L1803 321.2L1803.2 333.3L1803.5 333.7L1803.8 335.2L1805 337.2L1805.2 339.1L1805.8 339.7L1806 342.3L1806.5 288.7L1806.8 279.1L1807 277.3L1807.8 277.1L1808 277.3L1808.2 279.6L1808.5 290.5L1808.8 327.3L1809 338.4L1810.5 341.2L1811 341.6L1811.2 344.4L1811.5 344.6L1812 306.3L1812.2 304L1812.5 303.8L1813.2 303.8L1813.5 304.7L1813.8 309.7L1814.2 343L1816.2 344.7L1816.5 347.7L1817 348L1817.2 345.6L1817.5 305.8L1817.8 293.3L1818 290.5L1818.2 290.1L1819 290.2L1819.2 291.2L1819.5 297.2L1820 352.2L1820.2 346.7L1820.8 347L1821 352.2L1822.2 352.7L1822.5 351.3L1822.8 351.4L1823.2 305.8L1823.5 302.7L1823.8 302.3L1824.5 302.3L1824.8 302.9L1825 306.9L1825.5 350.3L1826 350.5L1826.2 355.5L1826.8 355.7L1827 351.1L1827.5 351.3L1827.8 354.8L1828.2 355L1828.5 351.8L1829.8 352.3L1830 351.4L1830.5 351.6L1830.8 356.6L1831.2 356.8L1831.5 351.9L1832 352L1832.2 357L1832.8 356.6L1833 355.1L1833.5 354.8L1833.8 356.8L1834.2 356.4L1834.5 353L1835 352.6L1835.2 355.2L1835.8 354.8L1836 351.4L1836.5 351L1836.8 348.2L1837.2 347.8L1837.5 348.6L1838 348.2L1838.2 349L1838.8 348.5L1839 352.4L1839.5 352L1839.8 345.2L1840.2 344.8L1840.5 349.2L1841 348.8L1841.2 344.2L1841.8 343.8L1842 349.7L1842.5 349.4L1842.8 347.9L1843.2 347.2L1843.5 341.6L1844 340.7L1844.2 342L1844.8 341.2L1845 345.6L1845.5 344.9L1845.8 342.2L1846.2 341.4L1846.8 339.9L1847 339.8L1847.2 342.4L1848.5 342.9L1848.8 344.1L1849.2 344.2L1849.5 340.4L1850 340.4L1850.2 341.3L1850.8 341.4L1851 342L1851.5 342.1L1851.8 340.9L1852.2 341L1852.5 342.2L1853 342.3L1853.2 341.9L1853.8 342L1854 338.7L1854.5 338.7L1854.8 344.2L1855.2 344.3L1855.5 344.8L1856 344.9L1856.2 341.8L1856.8 341.8L1857 343.3L1857.5 343.3L1857.8 341.7L1858.2 341.8L1858.5 338.4L1859 338.5L1859.2 337.8L1859.8 337.8L1860 339L1860.5 339.1L1860.8 338.2L1861.2 338.3L1861.5 344.3L1862 344.4L1862.2 343.4L1862.8 343.5L1863 345.5L1863.5 345.6L1863.8 344.1L1865.8 344.9L1866 344.1L1866.5 344.2L1866.8 339.1L1867.2 339.2L1867.5 342.8L1868 342.9L1868.2 339.7L1868.8 339.8L1869 343L1869.5 343.1L1869.8 341.3L1870.2 341.4L1870.5 342.1L1871 342.3L1871.2 343L1871.8 343.1L1872 340.3L1872.5 340.4L1872.8 343.2L1873.2 343.3L1873.5 344.1L1874 344.2L1874.2 346.6L1874.8 346.7L1875 347.8L1875.5 347.9L1875.8 345.2L1877 345.6L1877.2 347.9L1877.8 348L1878 341.4L1878.5 341.5L1878.8 349.1L1879.2 349.2L1879.5 345.8L1880 345.9L1880.2 347.6L1880.8 347.7L1881 346.4L1881.5 346.5L1881.8 343.1L1882.2 343.3L1882.5 342.3L1883 342.4L1883.2 346.9L1883.8 347L1884 344.6L1884.5 344.7L1884.8 343.4L1885.2 343.5L1885.5 348.2L1886 348.3L1886.2 347.5L1887.5 347.5L1887.8 344.4L1888.2 344.5L1888.5 348.7L1889 348.8L1889.2 344.3L1889.8 344.4L1890 349.9L1890.5 350L1890.8 346.3L1891.2 346.4L1891.5 346.8L1892 346.9L1892.2 351.4L1892.8 351.5L1893 349.4L1893.5 349.5L1893.8 345.7L1894.2 345.8L1894.5 349.1L1895 349.2L1895.2 351.8L1895.8 351.9L1896 348.9L1896.5 349L1896.8 348.5L1897.2 348.6L1897.5 349.2L1898 349.3L1898.2 349.7L1898.8 349.8L1899 346.1L1899.5 346.2L1899.8 348.2L1900.2 348.3L1900.5 350L1901.8 350.2L1902 347.9L1902.5 348.1L1902.8 351.9L1903.2 352L1903.5 350.3L1904 350.4L1904.2 348.5L1904.8 348.6L1905 353.4L1905.5 353.4L1905.8 353.1L1906.2 353.2L1906.5 353.9L1907 354L1907.2 349.7L1907.8 349.9L1908 349L1908.5 349.1L1908.8 350.1L1910 350.7L1910.2 354.7L1910.8 354.8L1911 352.6L1911.5 352.7L1911.8 352.1L1912.2 352.2L1912.5 353.1L1913 353.2L1913.2 353.8L1913.8 353.9L1914 353.1L1914.5 353.2L1914.8 354.2L1915.2 354.3L1915.5 355.4L1916 355.5L1916.2 352.3L1916.8 352.4L1917 356L1917.5 356.1L1917.8 353.5L1919 353.9L1919.2 351.3L1919.8 351.4L1920 352.2L1920.5 352.3L1920.8 353.9L1921.2 354L1921.5 356.9L1922 357L1922.2 352.6L1923.5 352.8L1923.8 353.4L1924.2 353.5L1924.5 351.3L1925 351.4L1925.2 354.6L1925.8 354.7L1926 355.3L1926.5 355.4L1926.8 354.6L1927.2 354.7L1927.5 357.4L1928 357.5L1928.2 354.4L1928.8 354.6L1929 357.6L1929.5 357.8L1929.8 354.6L1931 355.3L1931.2 355L1931.8 355.1L1932 358.1L1932.5 358.3L1932.8 355.3L1933.2 355.4L1933.5 354.2L1934 354.4L1934.2 354.2L1934.8 354.4L1935 355.7L1935.5 355.8L1935.8 359.3L1936.2 359.5L1936.5 356.1L1937 356.3L1937.2 359.7L1937.8 359.8L1938 355.5L1938.5 355.6L1938.8 360.9L1940 361.3L1940.2 359.3L1940.8 359.4L1941 361.2L1941.5 361.4L1941.8 356.8L1943 357.4L1943.2 360.9L1943.8 361.1L1944 358L1944.5 358.2L1944.8 360.9L1945.2 361L1945.5 358.7L1946 358.9L1946.2 362.4L1946.8 362.6L1947 358.6L1947.5 358.8L1947.8 361.3L1948.2 361.4L1948.5 362.5L1949 362.7L1949.2 361.7L1949.8 361.9L1950 364.1L1951.2 364.2L1951.5 362.3L1952 362.4L1952.2 361.9L1952.8 362.1L1953 360.3L1953.5 360.5L1953.8 362.7L1954.2 362.9L1954.5 363.8L1955.8 364.5L1956 365.6L1956.5 365.7L1956.8 361.9L1957.2 362.1L1957.5 363.1L1958 363.2L1958.2 365.2L1958.8 365.3L1959 363.3L1961 364.4L1961.2 365.3L1961.8 365.4L1962 363.8L1963.2 364L1963.5 364.7L1964 364.9L1964.2 367.2L1964.8 367.3L1965 366.4L1965.5 366.5L1965.8 365.9L1966.2 366L1966.5 364.9L1967 365.1L1967.2 366.8L1968.5 367.3L1968.8 368.9L1969.5 369.1L1969.8 367.9L1970.8 368L1971 367.9L1971.5 368L1971.8 368.3L1972.2 368.4L1972.5 368.2L1974 368.8L1975.5 368.9L1976 369.1L1976.2 369.3L1978.5 369.7L1981 370.3L1981.2 370.6L2096.2 370.6L2096.2 370.6L1980.5 370.6L1978.5 372.2L1977.8 372.6L1977.5 372.5L1976.5 373.2L1976.2 372.1L1976 372.9L1975.5 373.3L1975.2 375.6L1974 376.2L1973.8 375L1973.2 375.3L1973 377L1972.5 377.4L1972.2 375.8L1971.8 376.1L1971.5 375.8L1971 376.2L1970.8 377.1L1970.2 377.4L1970 376.1L1969.5 376.4L1969.2 378.5L1968.8 378.9L1968.5 377.5L1968 377.8L1967.8 380.4L1967.2 380.8L1967 378L1966.5 378.3L1966.2 381.2L1966 381.2L1965.8 381.3L1965.5 380.5L1965 380.5L1964.8 378.7L1964.2 378.8L1964 381.8L1963.5 381.9L1963.2 379.4L1962.8 379.5L1962.5 381.3L1962 381.3L1961.8 379.8L1961.2 379.9L1961 381.2L1960.5 381.2L1960.2 382.7L1959.8 382.8L1959.5 381L1959 381.1L1958.8 379.5L1958.2 379.6L1958 381.8L1957.5 381.8L1957.2 380.7L1956 380.9L1955.8 383L1955.2 383.1L1955 382.8L1954.5 382.9L1954.2 384L1953.8 384.1L1953.5 382.3L1953 382.4L1952.8 385.4L1952.2 385.5L1952 385L1951.5 385L1951.2 384.5L1950.8 384.6L1950.5 382.4L1950 382.5L1949.8 380.6L1949.2 380.7L1949 382.8L1948.5 382.9L1948.2 385L1947.8 385.1L1947.5 385.6L1947 385.7L1946.8 384.8L1946.2 384.9L1946 384.3L1945.5 384.4L1945.2 386.2L1944.8 386.3L1944.5 383.5L1944 383.6L1943.8 382.4L1943.2 382.5L1943 383.7L1942.5 383.8L1942.2 384.5L1941.8 384.6L1941.5 383.8L1941 383.9L1940.8 381.9L1940.2 382L1940 385.7L1939.5 385.8L1938.8 385.8L1938.5 383.2L1938 383.2L1937.8 382.7L1937.2 382.8L1937 385.1L1936.5 385.2L1936.2 383.9L1935.8 384L1935.5 383.7L1934.2 384L1934 382.8L1933.5 382.8L1933.2 384L1932.8 384.1L1932.5 386.2L1932 386.3L1931.8 385.7L1931.2 385.7L1931 387.2L1930.5 387.3L1930.2 386.5L1929.8 386.6L1929.5 384.3L1928.2 384.5L1928 385.8L1927.5 385.8L1927.2 387.4L1926.8 387.3L1926.5 388.2L1926 388.1L1925.8 385.9L1925.2 385.8L1925 387.5L1924.5 387.4L1924.2 385.4L1923.8 385.3L1923.5 386.5L1923 386.4L1922.8 385.8L1922.2 385.7L1922 387.3L1921.5 387.2L1921.2 387.4L1920.8 387.3L1920.5 385.2L1920 385.1L1919.8 387.4L1919.2 387.3L1919 385.4L1918.5 385.3L1918.2 386L1917.8 385.9L1917.5 383.9L1917 383.8L1916.8 386L1916.2 385.9L1916 382.5L1915.5 382.4L1915.2 381.2L1914.8 381.1L1914.5 383.7L1914 383.6L1913.8 386L1913.2 385.9L1913 381.5L1912.5 381.5L1912.2 382.8L1911.8 382.7L1911.5 380.9L1911 380.8L1910.8 384.4L1909.5 384.1L1909.2 380L1908.8 379.9L1908.5 383.4L1908 383.3L1907.8 381L1907.2 380.9L1907 382.2L1906.5 382.1L1906.2 383.2L1905.8 383.3L1905.5 380.7L1905 380.7L1904.8 383.1L1904.2 383.1L1904 382L1903.5 382.1L1903.2 380.3L1902.8 380.3L1902.5 384.5L1902 384.6L1901.8 382.6L1901.2 382.7L1901 381.4L1900.5 381.5L1900.2 380.3L1899.8 380.4L1899.5 381.4L1898.2 381.6L1898 384.1L1897.5 384.2L1897.2 384.7L1896.8 384.7L1896.5 385.1L1896 385.2L1895.8 382.6L1895.2 382.8L1895 384.6L1894.5 384.9L1894.2 384.3L1893.8 384.5L1893.5 382.2L1893 382.4L1892.8 383L1892.2 383.2L1892 387.1L1891.5 387.3L1891.2 388.1L1890.8 388.3L1890.5 385.9L1890 386.1L1889.8 384.6L1889.2 384.8L1889 386.4L1887.8 387.1L1887.5 388.4L1887 388.7L1886.8 388.3L1886.2 388.6L1886 387.7L1885.5 388L1885.2 387.1L1884.8 387.4L1884.5 385.6L1884 385.8L1883.8 389.6L1883.2 389.9L1883 388.3L1882.5 388.6L1882.2 390.9L1881.8 391.1L1881.5 393.3L1881 393.6L1880.8 392.1L1880.2 392.4L1880 394.4L1879.5 394.7L1879.2 391.1L1878.8 391.3L1878.5 389.3L1878 389.5L1877.8 390.9L1877.2 391.1L1877 392.1L1875.8 392.7L1875.5 392.1L1874.2 392.7L1874 396L1873.5 396.3L1873.2 397.4L1872.8 397.7L1872.5 393.6L1871.2 394.4L1871 397.2L1870.5 397.5L1870.2 392.8L1869.8 393.7L1869.5 396.7L1869 397.7L1868.8 400.8L1868.2 401.9L1868 403L1866.8 405.4L1866.5 404.2L1866 405.2L1865.8 409.6L1865.2 410.6L1865 401.7L1864.5 402.6L1864.2 410.5L1863.8 411.5L1863.5 407.1L1863 407.9L1862.8 411.9L1862.2 412.9L1862 411.1L1861.5 412L1861.2 413.9L1860.8 414.8L1860.5 416.4L1860 417.3L1859.8 414.2L1859.5 414.3L1859.2 414.1L1859 418.9L1858.5 418.5L1858.2 414.8L1857.8 414.4L1857.5 410.3L1857 411.5L1856.2 411.9L1856 419.1L1855.5 418.7L1855.2 409.5L1854.8 409.1L1854.5 417.9L1854 417.5L1853.8 407.6L1853.2 407.2L1853 415.7L1852.5 414.3L1852.2 409.3L1852 408.7L1851.8 412.8L1851 414L1850.2 414.1L1850 404.3L1849.5 402.9L1849.2 399L1848.8 397.7L1848.5 403.1L1847.2 398.6L1847 393.7L1846.8 393L1846 410L1845.2 411.9L1844.5 412L1844.2 386L1844 389L1843.5 387.6L1843.2 384L1842.8 382.7L1842.2 383.6L1841.5 391.5L1841 400.2L1840.8 409.3L1840.5 410.4L1839.8 412L1839 412L1838.8 385.5L1838.2 386.1L1838 390.9L1837.5 391.5L1837.2 388.3L1836.8 388.8L1836.5 393L1836.2 393.3L1835.8 397.1L1835.2 406.5L1835 408.2L1834.2 409.4L1833.5 409.4L1833.2 393.4L1833 393.7L1832.8 397.2L1832.2 397.8L1832 392.3L1831.5 392.9L1831.2 400.2L1830.8 400.9L1830.5 400.6L1830.2 400.9L1829.8 406.9L1829 407.7L1828.2 407.8L1828 404.9L1827.8 405.2L1827.5 398.4L1827 399L1826.8 403.6L1826.2 404.2L1826 402.5L1825.5 403.1L1825.2 408L1824.8 408.7L1824.5 413.2L1823.8 414.3L1822.8 414.4L1822.5 405L1822.2 404.8L1821.8 405.4L1821.5 413L1821.2 413.2L1821 413.1L1820.8 412.6L1820.2 412.4L1820 411.6L1819.5 411.4L1819 418.2L1818.2 419.4L1817.5 419.4L1817.2 403.5L1817 403.6L1816.5 403.5L1816.2 407.8L1815.8 407.6L1815.5 410.1L1815 409.9L1814.8 406.9L1814.2 406.6L1814 410.2L1813.8 410.1L1813.2 413.3L1812.5 414.3L1811.8 414.3L1811.5 400.2L1811.2 400.1L1811 404.2L1810.5 404L1810.2 405.1L1809.8 404.9L1809.5 406.6L1809 406.4L1808.8 404.1L1808 409.8L1807.5 419.2L1807.2 420.9L1806.5 422L1805.8 422L1805.5 407.8L1805.2 408.3L1805 410.4L1804.5 411.5L1804.2 408.2L1803.8 409.2L1803.5 418.5L1802.2 422L1802 417.5L1801.5 424.4L1800.8 425.7L1799.8 425.8L1799.5 416.8L1799.2 416.2L1799 422.2L1798.5 421L1798.2 418.9L1797.8 417.7L1797.5 413.4L1797 413.6L1796.8 417.2L1796.5 417.8L1796 426.2L1795.2 427.3L1794.5 427.3L1794.2 413.2L1794 413.3L1793.8 423.4L1793.2 423.7L1793 420.4L1792.5 420.6L1792.2 416.1L1791.8 416.4L1791.5 423.1L1791.2 423.2L1790.8 434.9L1790 436.7L1789.2 436.7L1789 426.5L1788.8 426.7L1788.5 421.9L1788 422.2L1787.8 423.5L1787.2 423.7L1787 425.6L1786.5 426.5L1786.2 421.1L1785.5 432.4L1785 450L1784.2 452.5L1783.5 452.5L1783.2 434.1L1782.8 435.1L1782.5 425.8L1782 426.6L1781.8 426.3L1781.2 427.1L1781 425.4L1780.5 427.7L1780.2 441L1779 443.5L1778.8 438.4L1778.5 438.7L1777.8 438.7L1777.5 431L1777.2 442.6L1776.8 443.5L1776.5 436.6L1775.2 438.2L1775 445L1774.5 445.8L1774.2 443.4L1773.8 456L1773 457.7L1772.8 457.8L1772.2 457.8L1772 441.3L1771.5 440.6L1771.2 453.3L1770.8 452.5L1770.5 444.7L1770 443.9L1769.8 444.6L1769.2 443.8L1769 440.5L1768.5 439.7L1768 444.5L1767.2 445.8L1766.5 446L1766.2 433.4L1766 443.5L1765.5 442.8L1765.2 430.2L1764.8 430L1764.5 431.7L1764 431.5L1763.8 438.5L1763.2 438.2L1763 436.8L1762.8 439.5L1762.5 448.8L1761.8 450.9L1761.5 451.1L1760.8 451.1L1760.5 441.3L1760.2 441.2L1760 428.5L1759.5 428.3L1759.2 439L1758.8 438.7L1758.5 433.2L1758 432.9L1757.8 434.1L1757.2 433.8L1757 434.2L1756.8 441.7L1756 443.5L1755.8 443.7L1755 443.7L1754.8 432.6L1754.2 432.6L1754 438.6L1753.5 438.6L1753.2 428.4L1752.8 428.4L1752.5 426.2L1752 426.2L1751.8 434.8L1751.5 434.8L1751.2 439.8L1751 450.7L1750.2 453.3L1750 453.6L1749.2 453.6L1748.8 430.3L1748.2 430.3L1748 430.8L1747.5 430.8L1747.2 435.8L1746.8 435.8L1746.5 428.3L1745.8 451.4L1745.5 470.7L1745.2 475.5L1744.5 479L1743.8 479L1743.5 429.9L1743 429.9L1742.8 427.1L1742.2 427.1L1742 431.2L1741.5 431.2L1741.2 426.4L1740.8 426.4L1740.5 436.7L1740 436.7L1739.8 443.4L1739.5 445.6L1738.8 447.2L1738 447.2L1737.8 436.5L1737.5 439L1737 439L1736.8 424.6L1736.2 424.6L1736 432.2L1735.5 432.2L1735.2 436.9L1734.8 436.9L1734.5 432.7L1734 443.6L1733.2 445.1L1732.5 445.1L1732.2 428.7L1731.8 429L1731.5 431.3L1731 431.5L1730.8 432.1L1730.2 432.3L1730 428.4L1729.8 428.5L1729.5 429.6L1729 437.1L1728.5 451.9L1727.8 453.9L1727 453.9L1726.8 433.2L1726.5 433.4L1726.2 428.6L1725.8 428.9L1725.5 443.1L1725 443.4L1724.8 438.5L1724.2 438.8L1724 439.8L1723.8 439.9L1723.5 440.8L1723.2 446.8L1722.5 448.3L1721.8 448.4L1721.5 436.9L1721.2 437.1L1721 431.8L1720.5 432.3L1720.2 434.1L1719.8 434.5L1719.5 445.1L1719 445.7L1718.8 445.5L1718.2 446L1718 444.5L1717.8 451.8L1717 453.4L1716.8 453.6L1716.2 453.6L1716 451L1715.8 437.1L1715.2 437.5L1715 439.2L1714.5 439.7L1714.2 448L1713.8 448.5L1713.5 441L1713.2 443L1712.8 452.7L1712.5 464.5L1712.2 468.3L1711.5 470.6L1710.8 470.6L1710.5 443.6L1710 444L1709.8 451.8L1709.2 452.3L1709 441.9L1708.5 442.4L1708.2 445.4L1707.8 445.9L1707.5 446.6L1706.8 459.4L1706.2 460.4L1706 460.8L1705.2 460.8L1705 448.5L1704.8 448.7L1704.5 446.9L1704 447.3L1703.8 455.4L1703.2 455.9L1703 454.6L1702.5 455L1702.2 459.5L1701.8 460L1701.5 467.1L1701 467.1L1700.8 457.9L1700.5 458.3L1699.8 458.3L1699.5 450.9L1699.2 461.7L1698.8 461.7L1698.5 457.8L1698 457.8L1697.8 451.2L1697.2 451.2L1697 455.5L1696.5 455.5L1696.2 464.6L1696 466.8L1695.2 468.7L1694.5 468.8L1694.2 458L1694 456.5L1693.5 456.5L1693.2 449.5L1692.8 449.5L1692.5 462.4L1691.2 462.3L1691 448.9L1690.5 463.4L1689.8 465.6L1689.5 465.9L1688.8 465.9L1688.5 460.7L1688.2 460.2L1688 458.3L1687.5 457.3L1687.2 441.3L1686.8 440.5L1686.5 444.6L1686 443.7L1685.8 452.8L1685.2 451.8L1685 462.7L1684.8 466L1684 468.3L1683.2 468.3L1683 433.2L1682.8 438L1682.2 437.1L1682 431.2L1681.5 430.3L1681.2 438.6L1680.8 437.7L1680.5 441.2L1680 441.7L1679.5 456.3L1678.8 458.3L1678 458.3L1677.8 434.5L1677.5 442.6L1676.2 445L1676 439.4L1675.5 440.1L1675.2 450.6L1674.8 451.3L1674.5 452.5L1674.2 456.8L1673.5 458.4L1672.8 458.5L1672.2 443.9L1671.8 444.6L1671.5 456.5L1671 457.2L1670.8 459.1L1670.2 459.9L1670 450.7L1669.8 451L1669.5 450.8L1669.2 452.5L1669 462.2L1668.8 463.9L1668 465.6L1667.2 465.6L1667 445.5L1666.5 445.2L1666.2 450L1665.8 449.7L1665.5 452.2L1665 451.8L1664.8 452.4L1664.2 452L1664 450.6L1663.5 475L1663.2 480.3L1662.5 483.5L1661.8 483.5L1661.5 446.5L1661.2 446.3L1661 454.5L1660.5 454.1L1660.2 442.9L1659.8 442.6L1659.5 436.7L1659.2 436.6L1659 436.9L1658.5 447.7L1658 469.3L1657.2 472.3L1656.5 472.3L1656.2 434.1L1656 433.8L1655.8 432.5L1655.2 432L1655 432.4L1654.5 431.9L1654.2 438.5L1653.8 437.9L1653.5 445.6L1653 445L1652.8 450.4L1652 452.4L1651.8 452.6L1651.2 452.6L1651 440.8L1650.8 440.4L1650.5 435.2L1650 434.6L1649.8 429.3L1649.2 428.7L1649 433L1648.5 432.4L1648.2 430.1L1647.8 434.3L1647.5 439.1L1647.2 440.2L1646.8 440.8L1646.2 441L1646 444.2L1645.5 445.5L1645.2 437.4L1644.8 438.6L1644.5 443.6L1644 444.9L1643.8 439.6L1643.2 440.7L1643 451.3L1642.5 452.6L1642 456.4L1641.2 457.8L1640.5 457.8L1640.2 446.7L1640 448.2L1639.5 449.4L1639.2 444.4L1638.8 445.5L1638.5 450L1638 451.1L1637.8 462.1L1637.2 459L1637 458.7L1636.8 467.6L1636 470.5L1635.2 470.7L1635 441L1634.8 440.9L1634.2 437.8L1634 441.8L1633.5 438.9L1633.2 429.9L1632.8 430.2L1632.5 427.1L1632.2 427.8L1632 429.9L1631.8 436.4L1631.5 438.6L1631.2 439.4L1630.8 440.2L1630.5 440.4L1629.8 440.4L1629.5 437L1629 437.4L1628.8 442.3L1628.2 442.7L1628 432.2L1627.5 432.5L1627.2 431.8L1626.8 431.9L1626.2 436.4L1625.5 437.2L1625.2 437.2L1625 438.8L1624.5 438.8L1624.2 433L1623.8 433L1623.5 430.1L1623 430.1L1622.8 432.2L1622.2 432.2L1622 430.7L1621.5 430.9L1621.2 433.1L1620.8 433.1L1620.5 432.2L1620 432.2L1619.8 429.2L1619.2 429.2L1619 439.9L1618.5 439.9L1618.2 437.8L1617.8 437.8L1617.5 442.4L1617 442.4L1616.8 438.5L1616.5 438.5L1616.2 439.5L1616 443.9L1615.5 445.8L1615.2 442L1614.8 443.8L1614.5 441.7L1614 443.4L1613.8 455.1L1613.2 457.1L1613 449.9L1612.5 451.7L1612.2 456.3L1611.8 456.3L1611.5 457.8L1611 457.8L1610.8 453.9L1610.2 453.9L1610 458.6L1609.5 458.6L1609.2 444.1L1608 444.1L1607.8 446.2L1607.2 440.9L1607 448.9L1606.5 443.1L1606.2 427.7L1605.8 422.7L1605.5 422.7L1605 417.5L1604.8 419.2L1603.5 405L1603.2 404.7L1602.8 404.7L1602.5 388.5L1601.8 375.3L1601.2 372.1L1601 371.2L1588.5 371.2Z" fill="#7E2F8E"/>
<path d="M465.7 352V316.5M470 335.6V284.2M475.3 334.6V259.6M480 307.6V239.7M485.3 323V231M490 317.4V243M494.9 296.2V223.7M499.8 319.6V236.6M505.1 294.7V223.5M509.8 308.4V235.4M514.9 318.5V245.3M519.8 318.9V251.9M524.7 320.8V253.4M529.6 322.6V241.4M534.5 314.2V262.8M539.4 339.3V288.6M544.1 338.3V308.4M548.8 343.4V315M553.5 348.7V295.8M558.4 343.5V292.6M562.2 338.8V291.1M566.9 334V294.4M571.4 344.9V292.3M575.8 341.9V304.1M580.5 351.7V319.9M584.6 320.4V264.4M589.3 323.2V277M594.2 334.1V292.5M598.2 347.2V300M602.7 328.2V279.7M607.4 345.4V306.1M611.6 340.2V307.9" fill="none" stroke="#fff" stroke-opacity="0.22" stroke-width="0.8" stroke-linecap="round"/>
<path d="M464.6 392.8V413.5M469.4 391.1V439.2M474.4 419.4V477M479.1 421.2V496.7M483.8 435.5V497.9M486.2 420.6V501.2M488.6 437.5V503.2M491.7 410.4V493.5M494.1 430.9V485.9M497.2 411.5V477.1M499 405.4V476.2M503.9 411.6V482M508.7 419.4V482.5M513.6 396.7V459.3M518.5 413.5V484.2M523.6 403.9V486M528.6 406V487.7M533.5 408.5V486.7M538.3 391.6V432.3M543.2 387.7V419.4M548.1 387.4V406.2M552.6 381.6V399.3M556.7 385.7V401.4M561.1 387.9V405.3M566 398.4V426.3M570.6 402.4V432.7M574.9 391.7V420.6M579 383.5V399.6M583.4 392.2V414.1M588.5 387.8V412.1M592.8 379.4V398.1M597 379.5V392.4M601.7 380.6V394.8M605.8 378.8V395.7" fill="none" stroke="#fff" stroke-opacity="0.22" stroke-width="0.8" stroke-linecap="round"/>
<path d="M883.7 357.3V339.9M889.3 355.1V339.4M895.2 357.9V338.3M901.2 354.6V335.5M906.6 349.2V328.5M912.4 353.7V329.3M918.1 352.1V330.5M923.7 353.4V333.2M929.4 353.7V336M935 360.4V336M940.7 359.3V336M946.5 352.5V336M952.2 354.6V336M957.8 358.4V335.5M963.5 353.9V334.4M968.8 358.5V333.4M974.6 356.4V332.3M979.9 355.3V331.3M985.5 356.9V330.3M990.8 357.5V329.6M996.1 353.6V328.9M1001.6 351.9V328.1M1006.8 355V327.5M1012.1 351.1V326.5M1017.4 346.9V324.9M1022.7 356.3V322.7M1028.1 353.1V320.9M1033 355V319.9M1038.3 347.6V319.2M1043.6 350.8V319.2M1048.7 350.6V319.5M1054.1 353.4V320.6M1059.2 347.6V321.7M1064.5 348.3V322.8M1069.6 352.4V324.1M1074.7 349.2V326.3M1080.2 356.7V329.9M1085.5 357.4V334.8M1090.6 353.6V337.4M1096.4 358.8V336M1101.7 360V337.5M1107.2 364.1V348.6M1114.7 364.3V356.5" fill="none" stroke="#fff" stroke-opacity="0.3" stroke-width="0.8" stroke-linecap="round"/>
<path d="M882.9 390.3V409.7M889.3 381.6V405.1M895 385.1V405.4M901 391.8V423.5M906.6 394.8V417.6M912.5 386.7V413.3M918.3 387.4V413.3M923.8 392.4V422.2M929.8 393.8V432.2M935.6 396.7V422.5M941.1 395.1V420.1M946.6 395.4V424.8M952.6 388.1V429M957.9 402.8V432.4M963.7 393.7V426.1M969 393.4V423.9M974.8 394.2V427.6M980.1 400.8V444.5M985.4 406.9V442.1M990.7 389.4V424.1M996.3 386.9V421.7M1001.6 394.8V416.8M1006.9 388.4V421.7M1012.2 390.9V428.3M1017.6 395.3V433.9M1023.3 403.1V435.7M1028.7 394.6V434.5M1033.6 387V427.3M1038.7 387.8V420M1044 386.6V417.7M1050 383.6V415.4M1055.3 392.4V414.3M1060.6 390.3V413.3M1065.5 384.2V413.3M1070.2 385.3V413.3M1075.1 391.8V411.4M1080.4 388V409.1M1085.5 384.9V407M1090.9 385.1V404.7M1096.4 386.5V401.1M1101.7 376.4V387.5" fill="none" stroke="#fff" stroke-opacity="0.3" stroke-width="0.8" stroke-linecap="round"/>
<path d="M1215.3 363V345.9M1222.6 363.2V356.1M1225.3 365.9V355.8M1232.4 349.4V324.6M1237.7 346.9V321.8M1242.4 348.7V323.4M1247.5 355.9V329.4M1252.6 357.6V335.4M1257.9 351.3V328.3M1263.3 344.2V319.4M1268.6 349.1V322.2M1273.7 352.3V326.5M1279 355.6V331M1284.3 357.2V335.4M1289.9 354.4V335.2M1295.2 356.4V334.1M1300.5 355.1V333M1305.9 353.7V331.8M1311.4 354.1V332.7M1316.9 359.8V333.9M1322.5 358.5V335.1M1327.8 355V336.2M1333.3 354.1V331.5M1338.9 349.6V327.4M1344.4 358.4V329.7M1350 356.9V330.5M1355.7 350.9V322M1361 345.8V317.1M1366.6 354.4V321.8M1372.1 349.1V324.6M1377.7 352.5V323.5M1383.2 353.3V322.3M1388.7 346.7V321.2M1394.3 355.2V321.1M1399.6 346V322.2M1405.1 353V321.6M1410.7 351.5V319.3M1416.4 354.1V321.1M1422 352.8V325.8M1427.7 352.3V332.9M1433.5 360.2V339.7" fill="none" stroke="#fff" stroke-opacity="0.5" stroke-width="0.8" stroke-linecap="round"/>
<path d="M1215.7 384.4V397.4M1222.6 378.3V389M1226 378.1V389.4M1232.8 384.5V404.4M1237.5 388.7V409.3M1240.2 392.3V412.2M1243 387.7V415M1248.1 386.8V418.2M1253.2 389.6V421.4M1258.4 386.9V424.6M1263.5 395.7V427.8M1268.8 400.6V428.1M1273.9 389.9V428.1M1279.4 393.6V419.9M1284.8 384.2V411M1290.3 390.7V410.2M1295.6 387.2V410.2M1301 385.2V409.2M1306.3 381.6V408M1311.8 382.7V408M1317.4 389.3V408M1322.9 382.7V407.4M1328.4 386.1V406.4M1334 385.9V407.1M1339.3 386.3V410.8M1344.8 390.7V414.7M1350.4 384.5V414.7M1355.9 390.2V414.7M1361.5 383.9V414.7M1367 385.5V414.7M1372.5 390.1V414.3M1378.1 384.7V413.1M1383.2 383.6V411.6M1388.5 386.3V409.3M1394.1 386.8V407.5M1399.6 380.9V406.3M1404.9 385.8V404.7M1410.5 384.1V402.4M1416 378.8V399.2M1421.5 380.4V393.9M1427.3 374.9V385.8" fill="none" stroke="#fff" stroke-opacity="0.5" stroke-width="0.8" stroke-linecap="round"/>
<path d="M1602.4 362.7V343.9M1607.3 344.5V309.3M1612.4 348.9V295.8M1617.6 339.8V295.2M1622.9 333.7V299.4M1628.2 347.1V304.4M1633.5 339.2V310M1638.7 339.4V299.2M1644 343.5V316M1649.3 350.8V302.5M1654.6 339.5V303.1M1660.2 345.3V308.7M1665.7 346V313.3M1671 350.8V317.8M1676.4 345.5V322.3M1681.7 350.8V325.7M1687.2 350V325.7M1692.6 349.5V323.6M1698.1 347.7V315.4M1703.6 342V311M1709 348.7V319.9M1714.5 351V323.9M1719.8 354.3V319.4M1725.6 348.1V316.7M1730.9 353.2V316.7M1736.4 348.2V317.9M1742 351.1V320.2M1747.7 346.9V319.8M1753.3 348V317.5M1758.8 350.5V316.7M1764.6 348.6V316.7M1770.5 353.8V320.8M1776.1 347.2V325.5M1781.8 348.6V325.7M1787.4 353.5V325.5M1793.1 354.6V323.1M1798.6 352.3V323.9M1804.4 354.5V333.9M1809.9 359.4V342M1815.5 358.1V346.1M1821 364.3V349.6M1826.8 363.8V352.1M1832.4 363.8V353.9M1838.1 364.2V349.1M1843.9 359.8V343.3M1849.4 357.2V338.9M1854.9 359.5V339.7" fill="none" stroke="#fff" stroke-opacity="0.45" stroke-width="0.8" stroke-linecap="round"/>
<path d="M1606.7 395.6V429.4M1608.8 394.4V441.7M1614.2 399.2V435.8M1619.1 400.1V428.3M1623.3 387.7V428.3M1628.4 392.9V427.4M1633.8 390.7V424.8M1639.1 396.5V443.6M1644.4 401.2V432.4M1649.7 398.7V425.2M1655.1 399.3V430.8M1660.4 395.7V435.8M1665.9 404.5V439.3M1671.2 392.1V439.9M1676.6 395.8V433.2M1681.9 394.5V430.8M1687.4 391.7V440.1M1693 402.2V446.2M1698.3 399V446.2M1703.8 398.2V444.4M1709.4 392V439.8M1714.7 399.4V435.3M1720.2 389.7V430.7M1725.6 387.3V427.2M1731.1 397.3V424.9M1736.7 389.7V423.8M1742.4 393.6V423.8M1747.9 395V423.8M1753.7 395.5V423.8M1759.4 398.3V425.7M1765 389.2V428M1770.7 396V435.4M1776.3 389.8V431.3M1782 394.4V422.6M1787.8 385.5V414.5M1793.1 385.1V412.3M1798.4 384.9V412.1M1804.4 387.4V407.3M1810.4 382.5V400.4M1816.1 386V402.4M1821.4 384.9V404.1M1826.8 382.5V398.5M1832.1 380.5V392.8M1837.7 376.6V387M1843 375.2V382.8M1848.8 379.6V396.1M1854.1 382.8V407" fill="none" stroke="#fff" stroke-opacity="0.45" stroke-width="0.8" stroke-linecap="round"/>
<path d="M467 370.6V268.9M471.3 370.6V226.9M476.6 370.6V183.9M481.3 370.6V203M486.6 370.6V177.9M491.3 370.6V125.7M496.2 370.6V176.2M501.1 370.6V187.7M506.4 370.6V98M511.1 370.6V145.3M516.2 370.6V160.9M521.1 370.6V160.2M526 370.6V145.9M530.9 370.6V142.7M535.8 370.6V167.9M540.7 370.6V203.5M545.4 370.6V206M550.1 370.6V233.7M554.8 370.6V228M559.7 370.6V233.7M563.5 370.6V187.1M568.2 370.6V187.7M572.7 370.6V163M577.1 370.6V181.7M581.8 370.6V198.1M585.9 370.6V218.8M590.6 370.6V239.1M595.5 370.6V274.2M599.5 370.6V272.1M604 370.6V281.7M608.7 370.6V274.9M612.9 370.6V309.8M465.9 370.6V472.8M470.7 370.6V508.6M475.7 370.6V501.1M480.4 370.6V509.6M485.1 370.6V522.7M487.5 370.6V528.8M489.9 370.6V532.8M493 370.6V545.9M495.4 370.6V545.2M498.5 370.6V516M500.3 370.6V518.7M505.2 370.6V520.9M510 370.6V531.9M514.9 370.6V522.7M519.8 370.6V511.7M524.9 370.6V538.9M529.9 370.6V534.9M534.8 370.6V519.7M539.6 370.6V490.6M544.5 370.6V501.9M549.4 370.6V482.4M553.9 370.6V468.6M558 370.6V475.9M562.4 370.6V496.8M567.3 370.6V511.7M571.9 370.6V517.9M576.2 370.6V524M580.3 370.6V521.9M584.7 370.6V524.9M589.8 370.6V518.8M594.1 370.6V509.6M598.3 370.6V508.6M603 370.6V518.8M607.1 370.6V515.1M611.9 370.6V475.9" fill="none" stroke="#0072BD" stroke-width="2.15" stroke-linecap="round"/>
<path d="M885 370.6V256.1M890.6 370.6V238M896.5 370.6V240.8M902.5 370.6V235.2M907.9 370.6V221.1M913.7 370.6V217.3M919.4 370.6V226.4M925 370.6V203M930.7 370.6V211.1M936.3 370.6V215.3M942 370.6V203M947.8 370.6V198.1M953.5 370.6V210M959.1 370.6V210.9M964.8 370.6V200.9M970.1 370.6V198.7M975.9 370.6V145.9M981.2 370.6V182.1M986.8 370.6V214.1M992.1 370.6V204.9M997.4 370.6V208.3M1002.9 370.6V225.8M1008.1 370.6V174.9M1013.4 370.6V191.5M1018.7 370.6V200.2M1024 370.6V224.9M1029.4 370.6V202.1M1034.3 370.6V225.8M1039.6 370.6V210.9M1044.9 370.6V232M1050 370.6V205.8M1055.4 370.6V222.4M1060.5 370.6V224.3M1065.8 370.6V236M1070.9 370.6V237.7M1076 370.6V258.8M1081.5 370.6V279.1M1086.8 370.6V291.3M1091.9 370.6V295.1M1097.7 370.6V314.7M1103 370.6V315.8M1108.5 370.6V342M1116 370.6V346.2M1122.8 370.6V363.1M884.2 370.6V438.7M890.6 370.6V457.9M896.3 370.6V467.4M902.3 370.6V478.7M907.9 370.6V470.8M913.8 370.6V468.9M919.6 370.6V476.4M925.1 370.6V493.8M931.1 370.6V492.8M936.9 370.6V494.9M942.4 370.6V488.9M947.9 370.6V491.7M953.9 370.6V500.7M959.2 370.6V460.8M965 370.6V470M970.3 370.6V477.4M976.1 370.6V516.8M981.4 370.6V481.5M986.7 370.6V457.6M992 370.6V464.7M997.6 370.6V462.5M1002.9 370.6V482.8M1008.2 370.6V503.9M1013.5 370.6V504.9M1018.9 370.6V486.8M1024.6 370.6V470.4M1030 370.6V467.8M1034.9 370.6V462.9M1040 370.6V476.8M1045.3 370.6V460.8M1051.3 370.6V462.9M1056.6 370.6V458.7M1061.9 370.6V460.8M1066.8 370.6V450.8M1071.5 370.6V447.6M1076.4 370.6V444.8M1081.7 370.6V444.4M1086.8 370.6V441.6M1092.2 370.6V443.8M1097.7 370.6V437.4M1103 370.6V420.8M1109.8 370.6V404.8M1115.8 370.6V395.2" fill="none" stroke="#D95319" stroke-width="2.15" stroke-linecap="round"/>
<path d="M1216.6 370.6V335.2M1223.9 370.6V309M1226.6 370.6V339.4M1233.7 370.6V304.3M1239 370.6V302.2M1243.7 370.6V288.3M1248.8 370.6V260M1253.9 370.6V260M1259.2 370.6V221.8M1264.6 370.6V223.3M1269.9 370.6V222.9M1275 370.6V231.9M1280.3 370.6V259.1M1285.6 370.6V278.1M1291.2 370.6V234M1296.5 370.6V250M1301.8 370.6V252.1M1307.2 370.6V253.2M1312.7 370.6V248.3M1318.2 370.6V251M1323.8 370.6V248.3M1329.1 370.6V259.1M1334.6 370.6V252.1M1340.2 370.6V225M1345.7 370.6V245.1M1351.3 370.6V254.2M1357 370.6V247.2M1362.3 370.6V237.2M1367.9 370.6V238.9M1373.4 370.6V250.2M1379 370.6V262.7M1384.5 370.6V256.1M1390 370.6V265.9M1395.6 370.6V248.9M1400.9 370.6V254M1406.4 370.6V250M1412 370.6V244M1417.7 370.6V250M1423.3 370.6V271.9M1429 370.6V288.9M1434.8 370.6V325M1217 370.6V397.1M1223.9 370.6V417.4M1227.3 370.6V411M1234.1 370.6V422.3M1238.8 370.6V414.2M1241.5 370.6V424.8M1244.3 370.6V452.5M1249.4 370.6V453.2M1254.5 370.6V470.6M1259.7 370.6V490.9M1264.8 370.6V484.5M1270.1 370.6V495.6M1275.2 370.6V497.7M1280.7 370.6V473.8M1286.1 370.6V452.1M1291.6 370.6V478.5M1296.9 370.6V465.3M1302.3 370.6V471.3M1307.6 370.6V468.1M1313.1 370.6V464.7M1318.7 370.6V465.7M1324.2 370.6V461.7M1329.7 370.6V462.5M1335.3 370.6V463.2M1340.6 370.6V462.5M1346.1 370.6V456.4M1351.7 370.6V464.3M1357.2 370.6V460.4M1362.8 370.6V463.2M1368.3 370.6V457.2M1373.8 370.6V464.7M1379.4 370.6V444.4M1384.5 370.6V439.3M1389.8 370.6V438M1395.4 370.6V448.3M1400.9 370.6V442.9M1406.2 370.6V444M1411.8 370.6V444.4M1417.3 370.6V441.2M1422.8 370.6V440.8M1428.6 370.6V442.5M1434.1 370.6V417.4M1439 370.6V395.4" fill="none" stroke="#EDB120" stroke-width="2.15" stroke-linecap="round"/>
<path d="M1599.9 370.6V330.9M1603.7 370.6V263M1608.6 370.6V209.1M1613.7 370.6V241M1618.9 370.6V255.9M1624.2 370.6V225M1629.5 370.6V231.4M1634.8 370.6V222.9M1640 370.6V215.9M1645.3 370.6V254.2M1650.6 370.6V228.2M1655.9 370.6V211.8M1661.5 370.6V222.3M1667 370.6V212.9M1672.3 370.6V219.1M1677.7 370.6V245.9M1683 370.6V227.8M1688.5 370.6V250.2M1693.9 370.6V221.9M1699.4 370.6V221.2M1704.9 370.6V210.8M1710.3 370.6V218M1715.8 370.6V219.1M1721.1 370.6V235.1M1726.9 370.6V255.9M1732.2 370.6V238.3M1737.7 370.6V237.4M1743.3 370.6V225M1749 370.6V226.8M1754.6 370.6V243.2M1760.1 370.6V221.9M1765.9 370.6V244.9M1771.8 370.6V227M1777.4 370.6V246.8M1783.1 370.6V245.9M1788.7 370.6V242.1M1794.4 370.6V233.1M1799.9 370.6V232.1M1805.7 370.6V235.3M1811.2 370.6V264M1816.8 370.6V274.7M1822.3 370.6V278.3M1828.1 370.6V279.4M1833.7 370.6V280M1839.4 370.6V289.5M1845.2 370.6V301.3M1850.7 370.6V303M1856.2 370.6V305.5M1602.7 370.6V419.7M1608 370.6V439.9M1610.1 370.6V451.2M1615.5 370.6V431.4M1620.4 370.6V437.4M1624.6 370.6V453.3M1629.7 370.6V467.6M1635.1 370.6V491.7M1640.4 370.6V500.6M1645.7 370.6V467.6M1651 370.6V488.9M1656.4 370.6V514.5M1661.7 370.6V511.7M1667.2 370.6V516.6M1672.5 370.6V511.7M1677.9 370.6V475.1M1683.2 370.6V491.7M1688.7 370.6V480M1694.3 370.6V505.5M1699.6 370.6V491.7M1705.1 370.6V491.7M1710.7 370.6V492.8M1716 370.6V499.6M1721.5 370.6V487.4M1726.9 370.6V477.8M1732.4 370.6V477.6M1738 370.6V467.6M1743.7 370.6V504.5M1749.2 370.6V501.7M1755 370.6V474M1760.7 370.6V477.6M1766.3 370.6V469.8M1772 370.6V471.9M1777.6 370.6V465.5M1783.3 370.6V469.3M1789.1 370.6V450.6M1794.4 370.6V438.4M1799.7 370.6V432.5M1805.7 370.6V431.8M1811.7 370.6V428.8M1817.4 370.6V430.8M1822.7 370.6V422.5M1828.1 370.6V432.5M1833.4 370.6V426.6M1839 370.6V422.7M1844.3 370.6V427M1850.1 370.6V423.4M1855.4 370.6V417.4" fill="none" stroke="#7E2F8E" stroke-width="2.15" stroke-linecap="round"/>
<path d="M391.5 370.6L390.3 394.7L392.4 341.3L394.1 418.1L396.7 318.2L398.8 413.8L401 322.5L404.1 440.5L405.9 305.9L409.5 442.2L411 305.3L414.4 433L415.9 311.2L419.5 427.7L421 324.6L424.4 426L426.5 333.8L429.7 413.2L431.2 337.4L435 418.1L436.7 327.4L440.4 424.5L441.9 323.1L445.7 426.6L447.2 319.3L450.6 437.3L452.1 311.9L456.1 445.8L457 312.5L460.8 465L461.7 290.6L464.5 370.6" fill="none" stroke="#0072BD" stroke-width="2.3" stroke-linejoin="round" stroke-linecap="round"/>
<path d="M635.2 374.6L636 347L637.5 437.3L639.6 302.3L641.9 462.2L643.9 290.6L646.6 456.9L648.8 294.4L651.3 457.5L653 293.3L655.8 456L657.7 291.6L660.1 460.3L662 289.5L664.7 459L666.9 286.3L669.4 458.6L671.1 289.5L673.9 460.3L675.8 289.5L678.2 459.6L680.3 288.4L682.8 459.6L685 283.5L687.5 457.9L689.2 282L692 455.4L694.1 281.4L696.7 452.2L698.8 281.6L701.4 450.1L703.5 283.5L706.1 446.2L708 287.4L710.8 435.1L712.9 296.3L715.4 429.4L717.6 304L720.1 418.5L722.3 306.5L725 444.7L727.2 265L730.1 428.1L731.8 257.5L735.8 443.2L736.7 267.5L740.5 446.2L741.4 279.5L745.4 445.2L746.3 293.3L750 442.6L751.4 311.9L754.9 449.4L756.3 303.8L760.3 455.4L761.2 303.8L764.9 446.4L766.6 310.8L770.4 431.3L771.3 315.5L775.5 429.2L778.7 314.4L781.3 434.1L783.6 317.2L786.8 448.6L788.3 316.5L792.1 441.1L793.6 314.4L797.5 438.8L799 314L802.8 442.6L806 310.8L808.5 452.2L811.1 317.2L814.3 455.4L816 305.5L820 453.7L820.9 290.6L825.7 439.4L826.6 290.6L831.5 446.2L832.4 290.6L837 454.3L837.9 284.2L842.8 444.1L843.7 287.4L848.5 443L849.4 278.2L854.1 434.5L855 280.3L859.8 428.3L860.7 285.7L866.2 424.5L867.1 274.1L872 428.3L872.9 267.5L877.9 433L878.8 257.5L883 360.6" fill="none" stroke="#D95319" stroke-width="2.6" stroke-linejoin="round" stroke-linecap="round"/>
<path d="M1439.2 378.6L1441.1 347.5L1444.9 385.3L1448.3 354.1L1450.5 388.4L1452.8 357.4L1455.3 381.5L1457.8 363.5L1460.4 377.4L1463.2 363.2L1466.2 375.1L1469.3 366.6L1471.9 375.4L1474.6 366.3L1477.3 375.1L1479.9 366.9L1482.5 373.9L1485.2 366.6L1488 373.1L1491.3 367.8L1493.6 372.4L1496.2 368.1L1498.9 372.4L1501.7 367.3L1504.3 371.6L1505.4 370.9" fill="none" stroke="#EDB120" stroke-width="2.3" stroke-linejoin="round" stroke-linecap="round"/>
<path d="M1857 370.6L1860.9 410.2L1861.8 319.7L1866.2 407L1867.1 322.5L1871.7 415.6L1872.6 327.6L1877.3 422.4L1878.2 324.6L1882.6 415.6L1883.5 327.6L1888.1 421.5L1889 324L1893.3 416.6L1894.8 330.4L1899.2 418.8L1900.1 328.9L1904.4 426.2L1905.9 324.4L1910.3 426.2L1911.2 322.5L1915.6 425.1L1916.5 322.3L1921.2 426.2L1922.1 322.3L1926.5 422.4L1927.4 322.9L1931.8 424.1L1932.7 322.5L1937.4 421.5L1938.3 322.5L1942.9 420.9L1943.8 323.6L1948.4 420.2L1949.3 325.5L1953.4 417.3L1954.9 325.5L1958.9 417.3L1960.4 327.2L1964.5 415.1L1966 326.5L1970.4 414.5L1971.3 328.2L1975.9 410.9L1976.8 332.5L1981.5 409.2L1982.4 335.1L1987 406.4L1987.9 336.8L1992.5 401.3L1993.4 339.5L1998.1 400.6L1999 342.5L2003.6 397L2004.5 343.8L2009.2 392.1L2010.1 344.2L2014.1 391.1L2015.6 346.4L2019.4 387.9L2020.9 346.8L2024.8 387.9L2026.5 345.7L2030.1 386.8L2032 348.5L2035.4 385.7L2037.1 348.9L2040.7 384.2L2042.9 355.9L2046.1 381.5L2048.2 360.8L2051.4 379.3L2053.9 361.9L2056.7 377.8L2059.3 363.4L2062 376.8L2064.8 364.5L2067.4 375.7L2070.1 367.7L2072.7 373.6L2074.8 368.1L2078 372.9L2080.1 368.1L2083.3 372.9L2085.5 368.3L2088.7 372.3L2091.9 368.1L2094 371.9L2096.3 370.6" fill="none" stroke="#7E2F8E" stroke-width="2.3" stroke-linejoin="round" stroke-linecap="round"/>
</svg>
<div class="title">Sentence GEN-004-075 (Colored by Word)</div>
<div class="xl">Time (s)</div>
<div class="yl">Amplitude</div>
<div class="xt" style="left:275.00px">0</div>
<div class="xt" style="left:490.33px">0.2</div>
<div class="xt" style="left:705.67px">0.4</div>
<div class="xt" style="left:921.00px">0.6</div>
<div class="xt" style="left:1136.33px">0.8</div>
<div class="xt" style="left:1351.67px">1</div>
<div class="xt" style="left:1567.00px">1.2</div>
<div class="xt" style="left:1782.33px">1.4</div>
<div class="xt" style="left:1997.67px">1.6</div>
<div class="xt" style="left:2213.00px">1.8</div>
<div class="yt" style="top:36.00px">0.6</div>
<div class="yt" style="top:89.60px">0.5</div>
<div class="yt" style="top:143.20px">0.4</div>
<div class="yt" style="top:196.80px">0.3</div>
<div class="yt" style="top:250.40px">0.2</div>
<div class="yt" style="top:304.00px">0.1</div>
<div class="yt" style="top:357.60px">0</div>
<div class="yt" style="top:411.20px">-0.1</div>
<div class="yt" style="top:464.80px">-0.2</div>
<div class="yt" style="top:518.40px">-0.3</div>
<div class="yt" style="top:572.00px">-0.4</div>
</body></html>
